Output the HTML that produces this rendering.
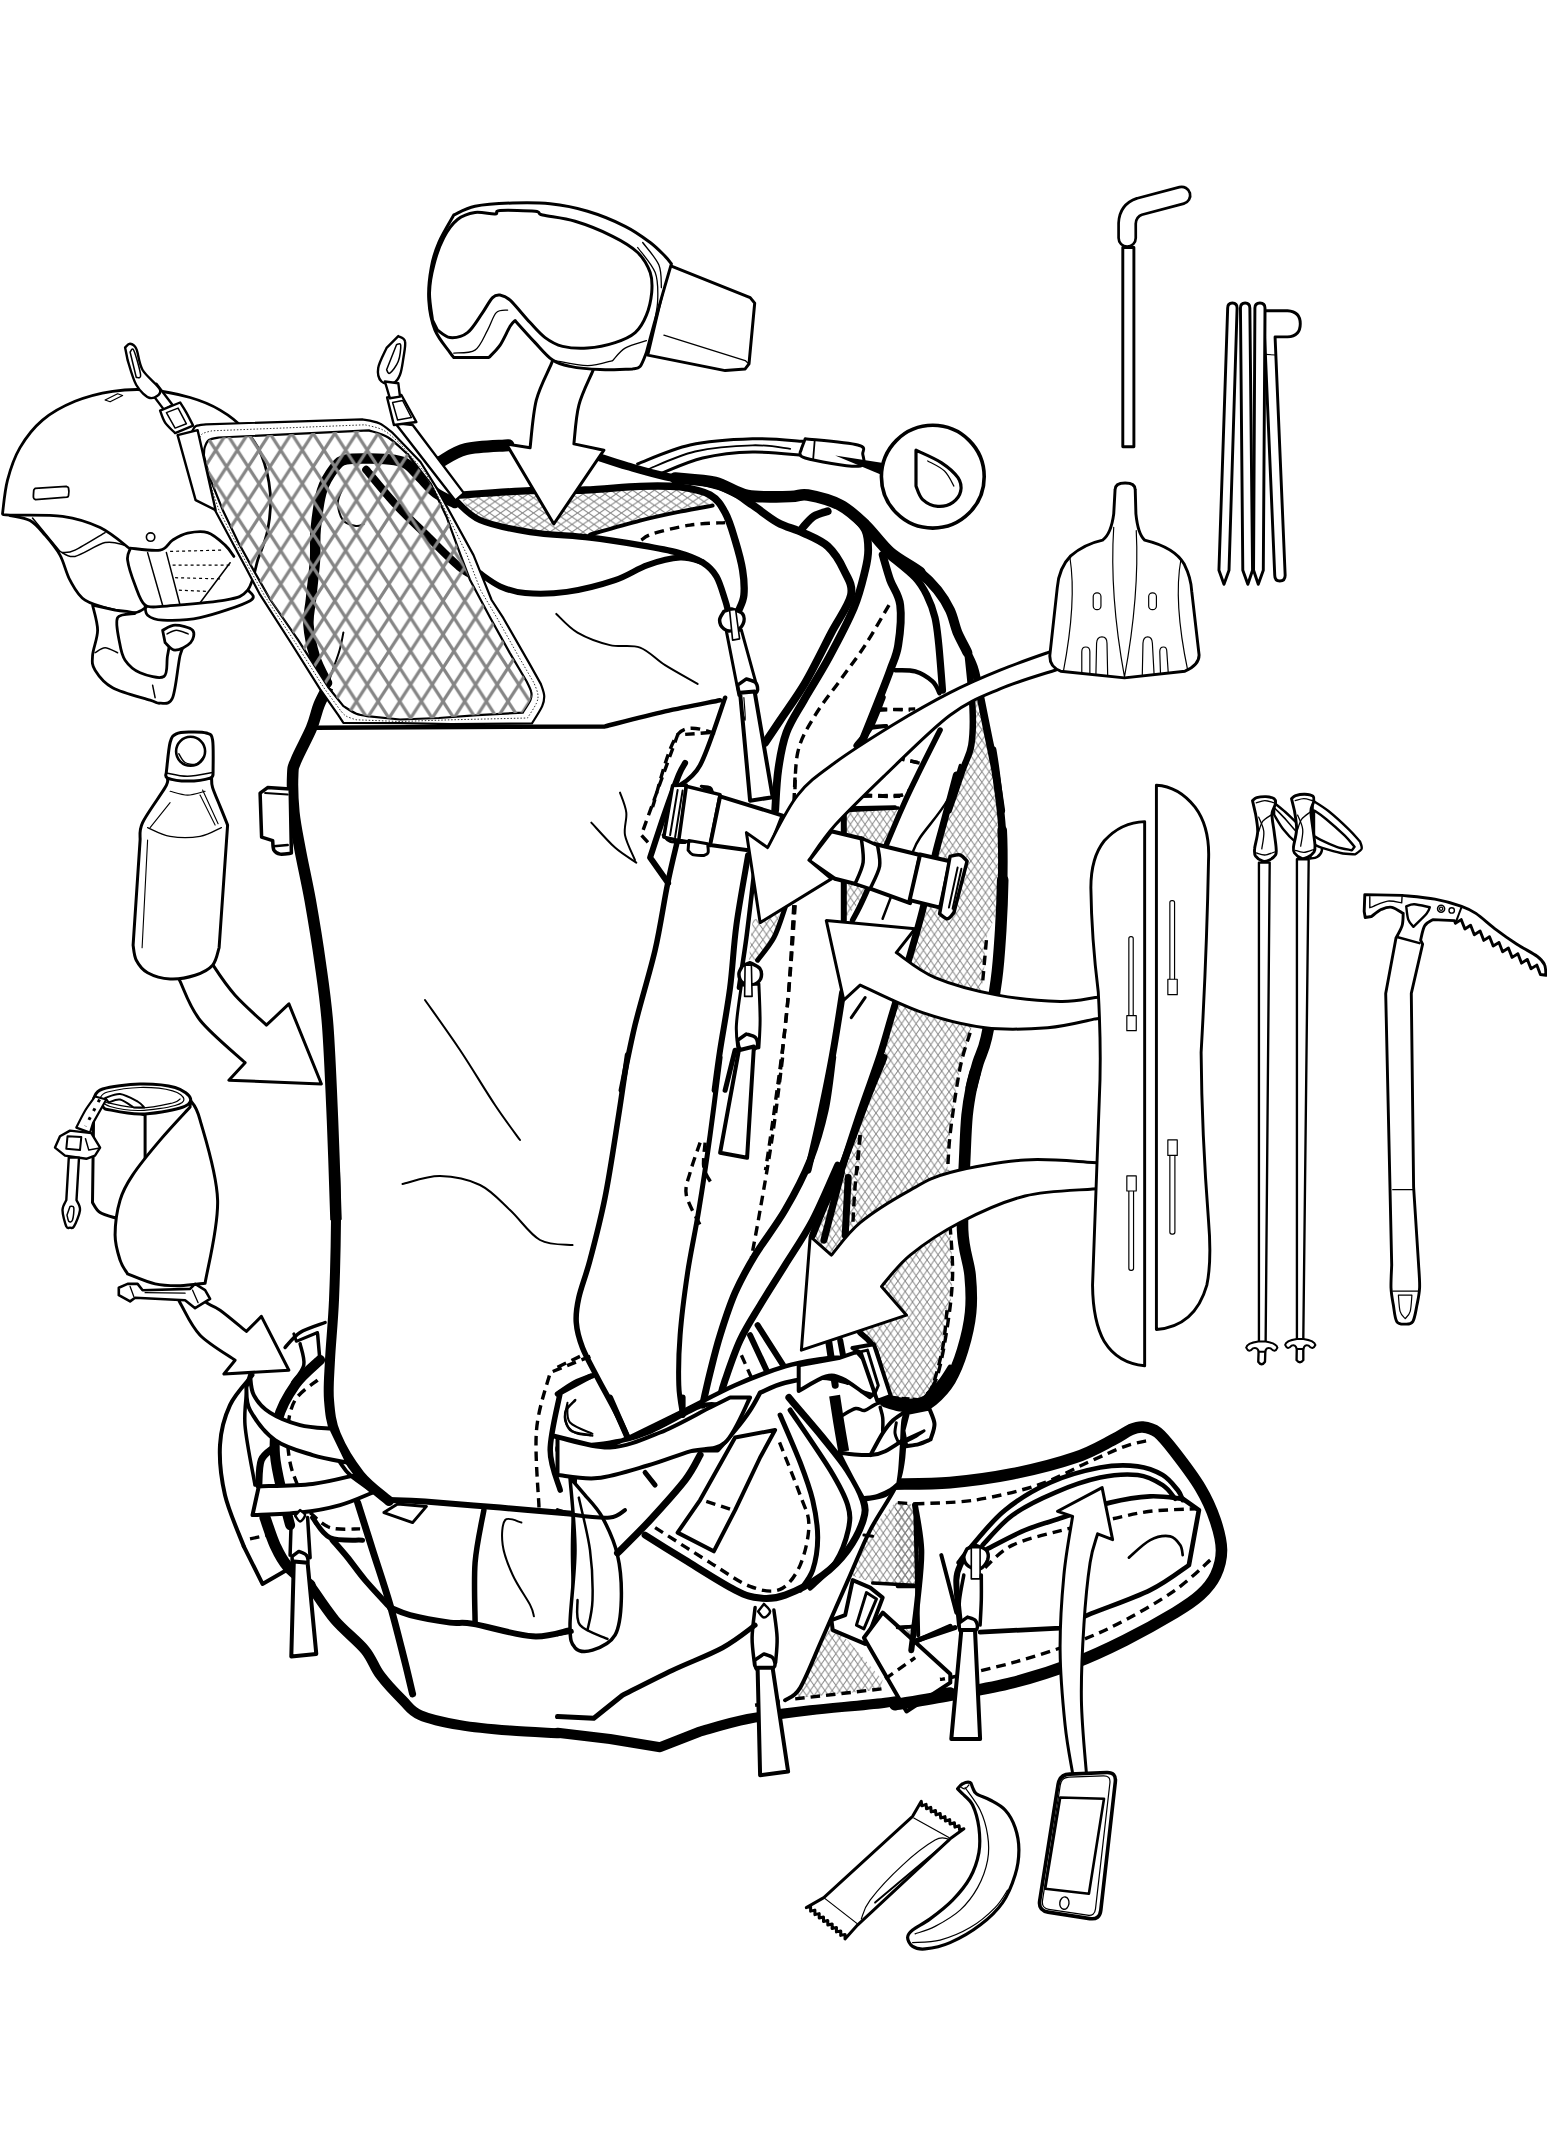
<!DOCTYPE html>
<html><head><meta charset="utf-8"><title>Backpack packing illustration</title>
<style>html,body{margin:0;padding:0;background:#fff;overflow:hidden}svg{display:block}
.o{fill:#fff;stroke:#000;stroke-linejoin:round;stroke-linecap:round}
.l{fill:none;stroke:#000;stroke-linejoin:round;stroke-linecap:round}
</style></head><body>
<svg width="1547" height="2136" viewBox="0 0 1547 2136">
<!-- 00_defs.svg -->
<defs>
<pattern id="mesh" patternUnits="userSpaceOnUse" x="204.9" y="433.4" width="21.65" height="33.5">
<path d="M0 0L21.65 33.5M21.65 0L0 33.5" stroke="#858585" stroke-width="3.2" fill="none"/>
</pattern>
<pattern id="fine" patternUnits="userSpaceOnUse" width="7.3" height="10.5">
<path d="M0 0L7.3 10.5M7.3 0L0 10.5" stroke="#808080" stroke-width="0.95" fill="none"/>
</pattern>
<pattern id="fine2" patternUnits="userSpaceOnUse" width="11" height="7.6">
<path d="M0 0L11 7.6M11 0L0 7.6" stroke="#8a8a8a" stroke-width="1" fill="none"/>
</pattern>
</defs>
<rect width="1547" height="2136" fill="#fff"/>

<!-- 10_fills.svg -->
<path d="M460.2 496.3C471.9 495.4 509.4 491.6 530.2 490.6C551 489.5 566.7 490.8 585 490C603.3 489.3 624.2 486.8 640.1 486.3C655.9 485.8 668 484.8 680.1 487C692.2 489.3 707.2 497.9 712.6 500.1L712.6 505.6C707.2 506.6 692.2 509.1 680.1 511.6C668 514.1 655.1 516.7 640.1 520.6C625.1 524.4 598.4 532.2 590 534.6C580.1 534.2 548.5 534.5 530.2 532.1C511.9 529.7 491.9 526 480.2 520.1C468.5 514.1 463.5 500.3 460.2 496.3Z" fill="url(#fine2)"/>
<path d="M973.8 670.2C973.6 676.4 973 695.2 972.5 707.7C972.1 720.2 973 734.8 971.3 745.2C969.6 755.6 965 765.3 962.5 770.2C960.1 775.2 959.3 767.1 956.4 775C953.5 782.9 948.7 804.2 945.1 817.5C941.6 830.9 938.9 839.6 935.1 855C931.4 870.5 926.8 893.4 922.6 910.1C918.4 926.8 915.1 938 910.1 955.1C905.1 972.2 897.6 996 892.6 1012.7C887.6 1029.3 885.5 1038.5 880.1 1055.2C874.7 1071.9 866.5 1093.5 860.1 1112.7C853.6 1131.9 847.5 1154 841.3 1170.3C835.1 1186.5 827.4 1199.3 822.7 1210.1C817.9 1220.9 806.4 1214.7 812.7 1235.1C818.9 1255.5 849.6 1313.5 860 1332.7C870.4 1351.8 870.5 1339.1 875 1350.2C879.6 1361.2 882.1 1389.9 887.6 1398.9C893 1408 901.3 1404.6 907.6 1404.7C913.8 1404.8 922.2 1400.5 925.1 1399.7L937.6 1375.2C939.3 1366.8 945.1 1341.8 947.6 1325.1C950.1 1308.5 952.2 1291.8 952.6 1275.1C953 1258.4 950.9 1243.8 950.1 1225.1C949.3 1206.3 947.5 1178.3 947.6 1162.5C947.7 1146.7 948.5 1146 950.6 1130.2C952.7 1114.4 956.9 1083.9 960.1 1067.7C963.4 1051.4 966.4 1046.8 970.1 1032.7C973.9 1018.5 979.9 998.1 982.6 982.6C985.4 967.2 984.5 950.5 986.4 940.1C988.3 929.7 991.5 925.9 993.9 920.1C996.3 914.3 999.2 911.8 1000.7 905.1C1002.1 898.4 1002.4 892.6 1002.7 880.1C1002.9 867.6 1003.2 847.5 1002.2 830C1001.1 812.5 998.8 791.2 996.4 775C994 758.8 990.3 746 987.6 732.7C984.8 719.4 982.1 705.6 980.1 695.2C978 684.8 975.9 674.3 975 670.2Z" fill="url(#fine)"/>
<path d="M845.1 810.5L898.1 808L865.1 895.1L845.1 918.8Z" fill="url(#fine)"/>
<path d="M752.6 920.1L780.1 912.6L772.6 937.7L757.6 960.2L748.9 960.2Z" fill="url(#fine)"/>
<path d="M895.2 1502.6L915.2 1505.1L917.7 1585.1L872.7 1582.6L850.2 1575.1L870.2 1530.1Z" fill="url(#fine)"/>
<path d="M830.2 1627.6L847.7 1640.2L882.7 1680.2L880.2 1689.7L795.2 1698.2L807.7 1670.2Z" fill="url(#fine)"/>
<path d="M895.2 1628.1L912.7 1626.6L913.2 1641.4L905.2 1637.7Z" fill="url(#fine)"/>
<path d="M895 1502.6L915 1505.1L921.3 1550.1L918.8 1586.4L895 1586.4Z" fill="url(#fine)"/>

<!-- 15_helmet.svg -->
<path d="M2.5 513.9C3.3 508.2 4.6 491.1 7.5 480.1C10.4 469 14.2 457.6 20 447.6C25.9 437.6 33.4 427.8 42.5 420.1C51.7 412.3 63.4 406.1 75 401.3C86.7 396.5 100.1 393.2 112.6 391.3C125.1 389.4 137.2 389 150.1 390C163 391.1 178.4 394.2 190.1 397.5C201.8 400.9 211 404.6 220.1 410.1C229.3 415.5 238.3 422.6 245.2 430.1C252 437.6 257.2 444.7 261.4 455.1C265.6 465.5 269.1 480.1 270.2 492.6C271.2 505.1 269.8 518.9 267.7 530.1C265.6 541.4 259.3 555.1 257.7 560.1C256 565.2 253.1 583.5 247.7 590.2C242.2 596.8 239.3 597.5 225.1 600.2C211 602.9 173 605.4 162.6 606.4C159.7 606.2 149.7 608.7 145.1 605.2C140.5 601.6 138 592.7 135.1 585.2C132.2 577.7 128.4 566.2 127.6 560.1C126.7 554.1 129.7 550.8 130.1 548.9C125.1 545.3 111.3 533 100.1 527.6C88.8 522.2 77.6 518.5 62.5 516.4C47.5 514.3 20 515.5 10 515.1C0 514.7 3.8 514.1 2.5 513.9Z" fill="#fff" stroke="#000" stroke-width="2.8" stroke-linecap="round" stroke-linejoin="round"/>
<path d="M130.1 548.1C135.1 548.5 153 551.5 160.1 550.1C167.2 548.8 168 543 172.6 540.1C177.2 537.3 181.8 534.4 187.6 533.1C193.5 531.9 201.4 530.6 207.6 532.6C213.9 534.6 220.8 541.2 225.1 545.1C229.5 549.1 232.4 554.5 233.9 556.4" fill="none" stroke="#000" stroke-width="2.8" stroke-linecap="round" stroke-linejoin="round"/>
<path d="M10 515.6C13.3 516.5 24.2 517.4 30 520.6C35.9 523.9 40 529.4 45 535.1C50 540.9 55.9 547.6 60 555.1C64.2 562.7 65.9 572.7 70 580.2C74.2 587.7 77.6 595.2 85.1 600.2C92.6 605.2 106.7 608.1 115.1 610.2C123.4 612.3 129.9 613.2 135.1 612.7C140.3 612.2 144.5 608.1 146.3 607.2" fill="none" stroke="#000" stroke-width="2.8" stroke-linecap="round" stroke-linejoin="round"/>
<path d="M62.5 552.6C64.6 552.2 68 553.5 75 550.1C82.1 546.8 100.1 535.5 105.1 532.6" fill="none" stroke="#000" stroke-width="1.5" stroke-linecap="round" stroke-linejoin="round"/>
<path d="M32.5 518.1L60 551.4" fill="none" stroke="#000" stroke-width="1.5" stroke-linecap="round" stroke-linejoin="round"/>
<path d="M60 551.4C62.5 552.2 67.5 557.9 75 556.4C82.6 554.9 96.7 544.5 105.1 542.6C113.4 540.8 121.7 544.7 125.1 545.1" fill="none" stroke="#000" stroke-width="1.5" stroke-linecap="round" stroke-linejoin="round"/>
<path d="M33.8 490.1L35 488.4L66.3 486.4C66.7 486.6 68.2 486.6 68.5 488.1C68.9 489.6 68.8 494.1 68.5 495.6C68.3 497.1 67.3 496.9 67 497.1L35.5 499.6C35.2 499.3 33.8 499.2 33.5 497.6C33.2 496 33.7 491.4 33.8 490.1Z" fill="#fff" stroke="#000" stroke-width="1.8" stroke-linecap="round" stroke-linejoin="round"/>
<circle cx="150.6" cy="537.1" r="4.2" fill="#fff" stroke="#000" stroke-width="1.6"/>
<path d="M105.1 400L117.6 393.8L122.6 395.5L110.1 401.8L105.1 400" fill="none" stroke="#000" stroke-width="1.2" stroke-linecap="round" stroke-linejoin="round"/>
<path d="M170.1 551.4L222.6 550.1" fill="none" stroke="#000" stroke-width="1.2" stroke-linecap="butt" stroke-linejoin="round" stroke-dasharray="3 3"/>
<path d="M172.6 565.2L230.1 565.2" fill="none" stroke="#000" stroke-width="1.2" stroke-linecap="butt" stroke-linejoin="round" stroke-dasharray="3 3"/>
<path d="M175.1 577.7L220.1 578.9" fill="none" stroke="#000" stroke-width="1.2" stroke-linecap="butt" stroke-linejoin="round" stroke-dasharray="3 3"/>
<path d="M178.9 590.2L207.6 591.4" fill="none" stroke="#000" stroke-width="1.2" stroke-linecap="butt" stroke-linejoin="round" stroke-dasharray="3 3"/>
<path d="M147.6 552.6L162.6 605.2" fill="none" stroke="#000" stroke-width="1.5" stroke-linecap="round" stroke-linejoin="round"/>
<path d="M166.4 552.6L180.1 605.2" fill="none" stroke="#000" stroke-width="1.5" stroke-linecap="round" stroke-linejoin="round"/>
<path d="M230.1 562.7L200.1 602.7" fill="none" stroke="#000" stroke-width="1.5" stroke-linecap="round" stroke-linejoin="round"/>
<path d="M145.1 605.2C145.5 606.8 144.7 612.7 147.6 615.2C150.5 617.7 153.8 619.8 162.6 620.2C171.4 620.6 185.5 620.9 200.1 617.7C214.7 614.4 242.2 605.3 250.2 600.7C258.2 596.1 248.5 591.9 248.2 590.2" fill="none" stroke="#000" stroke-width="2.8" stroke-linecap="round" stroke-linejoin="round"/>
<path d="M92.6 605.2C93.4 609.3 97.6 621.9 97.6 630.2C97.6 638.5 93 648.5 92.6 655.2C92.1 661.9 91.7 664.8 95.1 670.2C98.4 675.6 103.4 682.7 112.6 687.7C121.7 692.7 142.2 697.7 150.1 700.2C158 702.8 156.4 703.7 160.1 703.2C163.9 702.8 169.3 705.7 172.6 697.7C175.9 689.7 177.8 665 180.1 655.2C182.4 645.4 187.6 642.1 186.4 638.9C185.1 635.8 175.7 633.7 172.6 636.4C169.5 639.2 169.1 648.5 167.6 655.2C166.1 661.9 168.4 673.6 163.9 676.5C159.3 679.4 146.6 675.4 140.1 672.7C133.6 670 128.5 665.2 125.1 660.2C121.7 655.2 120.8 649.8 119.6 642.7C118.3 635.6 115 622.6 117.6 617.7C120.2 612.8 135.5 614.4 135.1 613.2C134.7 611.9 118.4 610.7 115.1 610.2Z" fill="#fff" stroke="#000" stroke-width="2.8" stroke-linecap="round" stroke-linejoin="round"/>
<path d="M162.6 630.2C164.7 629.4 170.1 625.2 175.1 625.2C180.1 625.2 190 627.3 192.6 630.2C195.2 633.1 193.5 639.4 190.6 642.7C187.7 646 179.4 650.2 175.1 650.2C170.9 650.2 166.8 644 165.1 642.7Z" fill="#fff" stroke="#000" stroke-width="2.8" stroke-linecap="round" stroke-linejoin="round"/>
<path d="M167.1 633.9C168.7 633.3 172.9 630.2 176.4 630.2C179.9 630.2 186.2 633.3 188.1 633.9" fill="none" stroke="#000" stroke-width="1.5" stroke-linecap="round" stroke-linejoin="round"/>
<path d="M95.1 652.7C96.7 651.9 101.3 647.7 105.1 647.7C108.8 647.7 115.5 651.9 117.6 652.7" fill="none" stroke="#000" stroke-width="1.5" stroke-linecap="round" stroke-linejoin="round"/>
<path d="M152.6 685.2L155.1 697.7" fill="none" stroke="#000" stroke-width="1.5" stroke-linecap="round" stroke-linejoin="round"/>

<!-- 20_packG.svg -->
<path d="M600 457.5C604.6 459 616.7 463.2 627.6 466.3C638.4 469.4 652.6 473.7 665.1 476.3C677.6 478.9 691.8 479.7 702.6 482C713.4 484.4 721.8 486.7 730.1 490.5C738.5 494.4 744.7 499.7 752.6 505.1C760.6 510.4 769.3 518 777.7 522.6C786 527.2 794.3 528.6 802.7 532.6C811 536.5 820.8 540.1 827.7 546.3C834.6 552.6 840.1 562 843.9 570.1C847.8 578.2 853 584.7 851 595.1C848.9 605.5 839.1 618 831.4 632.6C823.8 647.2 813.7 668.1 805.2 682.7C796.6 697.3 786.8 710.2 780.2 720.2C773.5 730.2 767.6 739 765.1 742.7" fill="none" stroke="#000" stroke-width="7.9" stroke-linecap="round" stroke-linejoin="round"/>
<path d="M675.1 478C681.8 478.8 703 479.6 715.1 482.5C727.2 485.5 735.1 493.2 747.6 495.5C760.1 497.9 780.2 496.6 790.2 496.5C800.2 496.5 799.3 493.6 807.7 495C816 496.5 830.6 500.1 840.2 505.1C849.8 510.1 856.9 517.1 865.2 525.1C873.5 533 881.1 544.7 890.2 552.6C899.4 560.5 912.1 566.3 920 572.6" fill="none" stroke="#000" stroke-width="11.6" stroke-linecap="round" stroke-linejoin="round"/>
<path d="M920 572.6C927.9 578.9 932.5 583.9 937.5 590.1C942.5 596.4 946.7 603 950 610.1C953.4 617.2 954.6 625.5 957.5 632.6C960.5 639.7 964.6 646.4 967.5 652.7" fill="none" stroke="#000" stroke-width="9.8" stroke-linecap="round" stroke-linejoin="round"/>
<path d="M967.5 652.7C970.5 658.9 973 663.1 975 670.2C977.1 677.2 978 684.8 980.1 695.2C982.1 705.6 985.1 720.2 987.6 732.7C990.1 745.2 992.8 757.3 995.1 770.2C997.4 783.2 1000.3 803.6 1001.3 810.3" fill="none" stroke="#000" stroke-width="7.6" stroke-linecap="round" stroke-linejoin="round"/>
<path d="M890.2 556.3C894.4 559.9 909.2 571.1 915.2 577.6C921.3 584.1 923.5 588.4 926.8 595.1C930.1 601.8 933 609.3 935 617.6C937 626 937.5 633.1 938.8 645.1C940 657.2 941.9 682.7 942.5 690.2" fill="none" stroke="#000" stroke-width="7.2" stroke-linecap="round" stroke-linejoin="round"/>
<path d="M967.5 652.7C968.4 661.8 971.9 692.3 972.5 707.7C973.2 723.1 973 734.8 971.3 745.2C969.6 755.6 966.3 759.4 962.5 770.2C958.8 781.1 951.1 803.6 948.8 810.3" fill="none" stroke="#000" stroke-width="6.5" stroke-linecap="round" stroke-linejoin="round"/>
<path d="M802.7 527.6C804.5 525.7 809.8 519 813.9 516.3C818.1 513.6 825.4 512.1 827.7 511.3" fill="none" stroke="#000" stroke-width="7.8" stroke-linecap="round" stroke-linejoin="round"/>
<path d="M850.2 511.3C852.7 514.4 862.2 523.6 865.2 530.1C868.2 536.5 868.2 543.4 868.2 550.1C868.2 556.8 867.6 560.5 865.2 570.1C862.8 579.7 860 593 854 607.6C847.9 622.2 837.3 642.2 828.9 657.7C820.6 673.1 811 687.7 803.9 700.2C796.8 712.7 790.7 721 786.4 732.7C782.1 744.4 780 757.3 778.2 770.2C776.3 783.2 775.7 803.6 775.2 810.3" fill="none" stroke="#000" stroke-width="7.8" stroke-linecap="round" stroke-linejoin="round"/>
<path d="M882.7 555.1C884 559.3 887.3 571.8 890.2 580.1C893.1 588.4 898.9 594.3 900.2 605.1C901.6 616 899.9 634.3 898.2 645.1C896.6 656 893.6 660.6 890.2 670.2C886.8 679.8 882.3 691 877.7 702.7C873.1 714.4 865.2 734 862.7 740.2" fill="none" stroke="#000" stroke-width="7.9" stroke-linecap="round" stroke-linejoin="round"/>
<path d="M895.2 670.2C898.6 670.4 909 669.5 915.2 671.4C921.5 673.3 928.5 677.8 932.5 681.4C936.6 685 938.4 691.2 939.5 693.2" fill="none" stroke="#000" stroke-width="4.5" stroke-linecap="round" stroke-linejoin="round"/>
<path d="M460.2 495.1C471.9 494.3 509.4 491.4 530.2 490.6C551 489.7 566.7 490.8 585 490C603.3 489.3 624.2 486.8 640.1 486.3C655.9 485.8 668.4 485.6 680.1 487C691.8 488.5 702.6 490.8 710.1 495C717.6 499.3 721 505.1 725.1 512.6C729.3 520.1 732.2 530.5 735.1 540.1C738 549.7 741.2 560.9 742.6 570.1C744.1 579.3 744.5 588.4 743.9 595.1C743.3 601.8 739.7 607.6 738.9 610.1" fill="none" stroke="#000" stroke-width="7.3" stroke-linecap="round" stroke-linejoin="round"/>
<path d="M455.2 500.1C459.3 503.4 467.7 514.7 480.2 520.1C492.7 525.4 511.9 529.2 530.2 532.1C548.5 535 571.7 535.4 590 537.6C608.3 539.7 625.5 542.6 640.1 545.1C654.7 547.6 667.2 549.7 677.6 552.6C688 555.5 696.1 558.6 702.6 562.6C709.1 566.6 712.6 570.1 716.4 576.4C720.1 582.6 723.2 594.3 725.1 600.1C727.1 606 727.6 609.5 728.1 611.4" fill="none" stroke="#000" stroke-width="6.4" stroke-linecap="round" stroke-linejoin="round"/>
<path d="M478.9 572.6C482.5 574.9 492.5 583 500.2 586.4C507.9 589.8 514.1 592.2 525.2 593.1C536.3 594 551.8 594 566.8 591.9C581.7 589.7 601.6 584.6 615 580.1C628.5 575.6 636.7 568.8 647.6 565.1C658.4 561.3 670.9 558.1 680.1 557.6C689.3 557.1 698.9 561.3 702.6 562.1" fill="none" stroke="#000" stroke-width="6" stroke-linecap="round" stroke-linejoin="round"/>
<path d="M590 534.6C598.4 532.2 625.1 524.4 640.1 520.6C655.1 516.7 668 514.1 680.1 511.6C692.2 509.1 707.2 506.6 712.6 505.6" fill="none" stroke="#000" stroke-width="4" stroke-linecap="round" stroke-linejoin="round"/>
<path d="M641.3 540.1C643.2 539 644.4 536.3 652.6 533.8C660.7 531.3 678 526.9 690.1 525.1C702.2 523.2 719.3 523 725.1 522.6" fill="none" stroke="#000" stroke-width="3.4" stroke-linecap="butt" stroke-linejoin="round" stroke-dasharray="9.5 6"/>
<path d="M556.3 613.9C559.8 617 568.6 627.4 577.5 632.6C586.5 637.8 599.6 642.6 610 645.1C620.5 647.6 630.9 644.3 640.1 647.6C649.2 651 655.5 659.1 665.1 665.2C674.7 671.2 692.2 680.8 697.6 683.9" fill="none" stroke="#000" stroke-width="2" stroke-linecap="round" stroke-linejoin="round"/>
<path d="M315.1 727.7L605 726.4C615 723.9 645.9 715.8 665.1 711.4C684.3 707.1 710.9 702.1 720.1 700.2" fill="none" stroke="#000" stroke-width="4.5" stroke-linecap="round" stroke-linejoin="round"/>
<path d="M731.4 608.9C733.2 609.7 740.7 611.4 742.6 613.9C744.6 616.4 744.4 621 743.1 623.9C741.9 626.8 738.3 630.6 735.1 631.4C731.9 632.2 726.5 630.8 723.9 628.9C721.3 627 719.6 623 719.6 620.1C719.6 617.2 723.2 612.8 723.9 611.4Z" fill="#fff" stroke="#000" stroke-width="3.5" stroke-linecap="round" stroke-linejoin="round"/>
<path d="M726.4 631.4L738.9 695.2L757.6 688.9L741.4 630.1Z" fill="#fff" stroke="#000" stroke-width="3" stroke-linecap="round" stroke-linejoin="round"/>
<path d="M729.6 610.1L735.6 609.4L739.6 638.9L732.6 640.1Z" fill="#fff" stroke="#000" stroke-width="1.6" stroke-linecap="round" stroke-linejoin="round"/>
<path d="M746.4 678.9C747.9 679.5 753.8 680.6 755.6 682.7C757.4 684.8 758.3 689.1 757.1 691.4C756 693.7 751.7 696 748.9 696.4C746 696.8 742 695.8 740.1 693.9C738.3 692.1 738 686.6 737.6 685.2Z" fill="#fff" stroke="#000" stroke-width="3.5" stroke-linecap="round" stroke-linejoin="round"/>
<path d="M740.1 692.7L754.6 691.4L772.7 797.2L750.1 800.7Z" fill="#fff" stroke="#000" stroke-width="4" stroke-linecap="round" stroke-linejoin="round"/>
<path d="M743.9 697.7C744.1 701.4 745.8 719.4 745.1 720.2C744.5 721 741 705.6 740.1 702.7" fill="none" stroke="#000" stroke-width="1.2" stroke-linecap="round" stroke-linejoin="round"/>
<path d="M725.1 697.7C721 708.9 708.2 750.2 700.1 765.2C692 780.2 680.3 784 676.3 787.7" fill="none" stroke="#000" stroke-width="4.5" stroke-linecap="round" stroke-linejoin="round"/>
<path d="M715.1 732.7C708.9 732.9 688.5 721.6 678.1 734C667.7 746.3 656.8 794.8 652.6 807" fill="none" stroke="#000" stroke-width="3.4" stroke-linecap="butt" stroke-linejoin="round" stroke-dasharray="9.5 6"/>
<path d="M889 605.1C885 611.8 873.3 632.6 865.2 645.1C857.1 657.7 848.5 668.5 840.2 680.2C831.9 691.8 822.3 703.1 815.2 715.2C808.1 727.3 801.1 736.9 797.7 752.7C794.2 768.6 795.2 800.7 794.7 810.3" fill="none" stroke="#000" stroke-width="3.4" stroke-linecap="butt" stroke-linejoin="round" stroke-dasharray="9.5 6"/>
<path d="M877.7 710.2L915.2 708.9" fill="none" stroke="#000" stroke-width="3.4" stroke-linecap="butt" stroke-linejoin="round" stroke-dasharray="9.5 6"/>
<path d="M895.2 757.7L920.2 763.2" fill="none" stroke="#000" stroke-width="3.4" stroke-linecap="butt" stroke-linejoin="round" stroke-dasharray="9.5 6"/>
<path d="M862.7 795.2C869 795.3 891.5 797.8 900.2 795.7C909 793.7 912.7 784.9 915.2 782.7" fill="none" stroke="#000" stroke-width="3.4" stroke-linecap="butt" stroke-linejoin="round" stroke-dasharray="9.5 6"/>
<path d="M872.7 726.4L886.5 725.7" fill="none" stroke="#000" stroke-width="3.5" stroke-linecap="round" stroke-linejoin="round"/>
<path d="M637.6 463.8C646.3 460.7 670.9 449.2 690.1 445C709.3 440.8 733.9 439.4 752.6 438.8C771.4 438.1 794.3 440.8 802.7 441.3" fill="none" stroke="#000" stroke-width="3" stroke-linecap="round" stroke-linejoin="round"/>
<path d="M646.3 470C654.4 466.9 677.4 455.6 695.1 451.5C712.8 447.4 736.8 445.7 752.6 445.3C768.5 444.8 783.9 448.2 790.2 448.8" fill="none" stroke="#000" stroke-width="1.8" stroke-linecap="round" stroke-linejoin="round"/>
<path d="M660.1 473.8C667.2 471.2 687.2 461.7 702.6 458C718 454.4 736 452.4 752.6 452C769.3 451.6 794.3 454.9 802.7 455.5" fill="none" stroke="#000" stroke-width="3" stroke-linecap="round" stroke-linejoin="round"/>
<path d="M805.2 438.8C813.9 439.8 848.1 442.5 857.7 445C867.3 447.5 862.6 450.2 862.7 453.8C862.8 457.3 867.8 465.6 858.2 466.3C848.6 467 814.6 460.9 805.2 458C795.7 455.1 802 450.3 801.4 448.8Z" fill="#fff" stroke="#000" stroke-width="3" stroke-linecap="round" stroke-linejoin="round"/>
<path d="M814.7 440.5L813.2 458.8" fill="none" stroke="#000" stroke-width="1.8" stroke-linecap="round" stroke-linejoin="round"/>
<path d="M835.2 455.5L883.2 463L880.7 474.5Z" fill="#000"/>
<circle cx="932.8" cy="476.7" r="51.4" fill="#fff" stroke="#000" stroke-width="3.6"/>
<path d="M916 450.2C920.2 452.2 934.2 458 941.2 462.6C948.2 467.2 954.7 473 958 477.7C961.2 482.5 961.5 487.1 960.7 491.2C959.8 495.3 956.8 499.7 952.9 502.3C949.1 504.8 942.9 506.8 937.8 506.3C932.8 505.9 926.3 502.9 922.7 499.6C919 496.2 917.1 488.4 916 486.1L916 450.2Z" fill="#fff" stroke="#000" stroke-width="3.2" stroke-linecap="round" stroke-linejoin="round"/>
<path d="M927.7 460.9C930.5 462.6 940.2 466.8 944.5 471C948.9 475.2 952.4 483.6 953.9 486.1" fill="none" stroke="#000" stroke-width="1.2" stroke-linecap="round" stroke-linejoin="round"/>
<path d="M327 683C325 678.7 318.1 666.7 315 657C311.9 647.3 309.2 634.7 308.5 625C307.8 615.3 309.9 609.8 311 599C312.1 588.2 314.2 571.7 315 560C315.8 548.3 314.5 540.6 315.7 529C316.9 517.4 318.8 500.8 322 490.5C325.2 480.2 331 472.2 335 467C339 461.8 340.2 460.9 346 459.5C351.8 458.1 361.9 458.4 370 458.5C378.1 458.6 388.3 459 394.6 460C400.9 461 403.3 461.7 407.6 464.6C411.9 467.5 415.8 472.9 420.5 477.6C425.2 482.3 430.2 488.8 436 493C441.8 497.2 451.8 501.3 455 503" fill="none" stroke="#000" stroke-width="10.5" stroke-linecap="round" stroke-linejoin="round"/>
<path d="M366.2 469.8C370.9 475.4 384.5 492.4 394.6 503.4C404.7 514.4 416.2 525.1 427 535.7C437.8 546.3 450.3 559.5 459.3 566.8C468.3 574.1 477.4 577.4 481 579.5" fill="none" stroke="#000" stroke-width="8" stroke-linecap="round" stroke-linejoin="round"/>
<path d="M341.6 490.5C341 492.6 337.6 498.4 337.8 503.4C338 508.3 339.9 516.4 342.9 520.2C345.9 524 352.4 525.4 355.9 526C359.3 526.6 362.3 524.4 363.6 524.1" fill="none" stroke="#000" stroke-width="2" stroke-linecap="round" stroke-linejoin="round"/>
<path d="M343.4 632.4C342.8 635.4 341.6 643.2 339.5 650.5C337.4 657.8 332.6 670.1 330.5 676.4C328.4 682.6 327.2 686.1 326.6 688" fill="none" stroke="#000" stroke-width="2" stroke-linecap="round" stroke-linejoin="round"/>
<path d="M439.9 462C444.2 459.9 454.3 451.9 465.7 449.1C477.1 446.3 501.3 445.9 508.4 445.2" fill="none" stroke="#000" stroke-width="12" stroke-linecap="round" stroke-linejoin="round"/>

<!-- 21_packJ.svg -->
<path d="M992.7 750C993.3 754.1 994.8 761.7 996.4 775C998 788.3 1001.1 812.5 1002.2 830" fill="none" stroke="#000" stroke-width="7.6" stroke-linecap="round" stroke-linejoin="round"/>
<path d="M1002.2 830C1003.2 847.5 1002.9 863.4 1002.7 880.1" fill="none" stroke="#000" stroke-width="9.6" stroke-linecap="round" stroke-linejoin="round"/>
<path d="M1002.7 880.1C1002.4 896.7 1001.7 913.4 1000.7 930.1C999.6 946.8 998.8 962.2 996.4 980.1C994 998.1 989.4 1023.9 986.4 1037.7C983.4 1051.4 980.6 1054.3 978.1 1062.7C975.6 1071 972.5 1083.5 971.4 1087.7" fill="none" stroke="#000" stroke-width="11.6" stroke-linecap="round" stroke-linejoin="round"/>
<path d="M956.4 775C954.5 782.1 948.7 804.2 945.1 817.5C941.6 830.9 938.9 839.6 935.1 855C931.4 870.5 926.8 893.4 922.6 910.1C918.4 926.8 915.1 938 910.1 955.1C905.1 972.2 897.6 996 892.6 1012.7C887.6 1029.3 885.5 1038.5 880.1 1055.2C874.7 1071.9 866.5 1093.5 860.1 1112.7C853.6 1131.9 844.4 1160.7 841.3 1170.3" fill="none" stroke="#000" stroke-width="7" stroke-linecap="round" stroke-linejoin="round"/>
<path d="M940.1 730C936.2 737.9 923 763.7 916.4 777.5C909.7 791.3 908.6 792.9 900.1 812.5C891.5 832.1 873 877.1 865.1 895.1C857.1 913 854.6 915.9 852.6 920.1" fill="none" stroke="#000" stroke-width="5.5" stroke-linecap="round" stroke-linejoin="round"/>
<path d="M960.1 765C958 770.8 954.3 787.9 947.6 800C941 812.1 925.9 828.8 920.1 837.5C914.3 846.3 913.8 850 912.6 852.5" fill="none" stroke="#000" stroke-width="2.5" stroke-linecap="round" stroke-linejoin="round"/>
<path d="M892.6 892.6L882.6 918.8" fill="none" stroke="#000" stroke-width="2.5" stroke-linecap="round" stroke-linejoin="round"/>
<path d="M843.8 812.5L843.8 920.1" fill="none" stroke="#000" stroke-width="6" stroke-linecap="round" stroke-linejoin="round"/>
<path d="M846.3 810.5L898.1 808" fill="none" stroke="#000" stroke-width="3.5" stroke-linecap="round" stroke-linejoin="round"/>
<path d="M862.6 795L900.1 796.3" fill="none" stroke="#000" stroke-width="3.4" stroke-linecap="butt" stroke-linejoin="round" stroke-dasharray="9.5 6"/>
<path d="M795 777.5L793.8 805" fill="none" stroke="#000" stroke-width="3.4" stroke-linecap="butt" stroke-linejoin="round" stroke-dasharray="9.5 6"/>
<path d="M793.8 905.1C792.7 921.8 790.6 971.8 787.5 1005.1C784.4 1038.5 778.7 1077.7 775 1105.2C771.3 1132.7 767.1 1159.4 765.5 1170.3" fill="none" stroke="#000" stroke-width="3.4" stroke-linecap="butt" stroke-linejoin="round" stroke-dasharray="9.5 6"/>
<path d="M986.4 940.1L982.6 982.6" fill="none" stroke="#000" stroke-width="3.4" stroke-linecap="butt" stroke-linejoin="round" stroke-dasharray="9.5 6"/>
<path d="M970.1 1032.7C968.5 1038.5 963.4 1051.4 960.1 1067.7C956.9 1083.9 952.7 1113.1 950.6 1130.2C948.5 1147.3 948.1 1163.6 947.6 1170.3" fill="none" stroke="#000" stroke-width="3.4" stroke-linecap="butt" stroke-linejoin="round" stroke-dasharray="9.5 6"/>
<path d="M860.1 1135.2L857.1 1170.3" fill="none" stroke="#000" stroke-width="3.4" stroke-linecap="butt" stroke-linejoin="round" stroke-dasharray="9.5 6"/>
<path d="M842.6 992.6C840.9 1003.1 836.3 1034.3 832.5 1055.2C828.8 1076 824.1 1098.5 820 1117.7C816 1136.9 810 1161.5 808 1170.3" fill="none" stroke="#000" stroke-width="7" stroke-linecap="round" stroke-linejoin="round"/>
<path d="M865.1 997.6L851.3 1017.7" fill="none" stroke="#000" stroke-width="3" stroke-linecap="round" stroke-linejoin="round"/>
<path d="M831.3 831.3L862.6 838.8L870.1 887.6L835 878.8L808.8 860.6Z" fill="#fff" stroke="#000" stroke-width="4" stroke-linecap="round" stroke-linejoin="round"/>
<path d="M873.8 843.8L920.1 855L910.1 903.1L868.8 888.1Z" fill="#fff" stroke="#000" stroke-width="4" stroke-linecap="round" stroke-linejoin="round"/>
<path d="M861.3 838L877.6 845.5C877.9 849 880.8 859.1 879.6 866.3C878.3 873.5 871.7 885.1 870.1 888.8L855.1 883.8C856.4 880.3 862 870.2 863.1 862.6C864.1 854.9 861.6 842.1 861.3 838Z" fill="#fff" stroke="#000" stroke-width="3.5" stroke-linecap="round" stroke-linejoin="round"/>
<path d="M920.1 854.5L950.1 861.3L940.1 907.6L909.6 900.1Z" fill="#fff" stroke="#000" stroke-width="4" stroke-linecap="round" stroke-linejoin="round"/>
<path d="M950.1 856.3C951.8 856.1 957.3 854.2 960.1 855C963 855.9 966 860.3 967.1 861.3L953.9 912.6C952.8 913.6 950 918.6 947.6 918.8C945.2 919 941 914.7 939.6 913.8L950.1 856.3Z" fill="#fff" stroke="#000" stroke-width="3.5" stroke-linecap="round" stroke-linejoin="round"/>
<path d="M957.6 867.6L948.9 907.6" fill="none" stroke="#000" stroke-width="2" stroke-linecap="round" stroke-linejoin="round"/>
<path d="M961.4 868.8L952.6 908.8" fill="none" stroke="#000" stroke-width="2" stroke-linecap="round" stroke-linejoin="round"/>

<!-- 22_packK.svg -->
<path d="M685.1 763C684 765 682.2 766.8 678.8 775C675.5 783.3 669.9 798.8 665.1 812.6C660.3 826.3 652.6 850.1 650.1 857.6L668.1 883.1" fill="none" stroke="#000" stroke-width="6" stroke-linecap="round" stroke-linejoin="round"/>
<path d="M677.6 840.1C675.9 847.4 671.3 865.5 667.6 883.9C663.8 902.2 660.5 926.6 655.1 950.2C649.6 973.7 640.7 1001.9 635 1025.2C629.4 1048.6 623.6 1079.4 621.3 1090.3" fill="none" stroke="#000" stroke-width="5.5" stroke-linecap="round" stroke-linejoin="round"/>
<path d="M710.1 732.5L677.6 735L641.3 835.1L652.6 847.6" fill="none" stroke="#000" stroke-width="3.4" stroke-linecap="butt" stroke-linejoin="round" stroke-dasharray="9.5 6"/>
<path d="M620 792.6C621.1 795.9 625.5 805.5 626.3 812.6C627.1 819.7 623.6 827.2 625 835.1C626.5 843 633.4 855.9 635 860.1" fill="none" stroke="#000" stroke-width="2" stroke-linecap="round" stroke-linejoin="round"/>
<path d="M591.3 822.6C595.2 826.7 607.5 840.9 615 847.6C622.5 854.3 632.8 860.1 636.3 862.6" fill="none" stroke="#000" stroke-width="2" stroke-linecap="round" stroke-linejoin="round"/>
<path d="M672.6 785.6L686.3 785.1L679.6 840.6L663.8 837.1Z" fill="#fff" stroke="#000" stroke-width="3.5" stroke-linecap="round" stroke-linejoin="round"/>
<path d="M686.3 786.3L720.1 794.6L710.1 845.6L678.8 840.1Z" fill="#fff" stroke="#000" stroke-width="3.5" stroke-linecap="round" stroke-linejoin="round"/>
<path d="M677.6 790.1L670.1 835.1" fill="none" stroke="#000" stroke-width="2" stroke-linecap="round" stroke-linejoin="round"/>
<path d="M682.6 790.6L675.1 837.1" fill="none" stroke="#000" stroke-width="2" stroke-linecap="round" stroke-linejoin="round"/>
<path d="M688.8 840.6L707.6 843.8C707.7 845.3 708.7 850.6 708.1 852.6C707.5 854.6 704.6 855.1 703.8 855.6C702 855.4 695.2 855.5 692.6 854.6C690 853.7 688.8 850.8 688.1 850.1Z" fill="#fff" stroke="#000" stroke-width="3" stroke-linecap="round" stroke-linejoin="round"/>
<path d="M701.3 786.3C702.8 786.5 708.2 786.5 710.1 787.6C712 788.6 712.2 791.7 712.6 792.6Z" fill="#fff" stroke="#000" stroke-width="3" stroke-linecap="round" stroke-linejoin="round"/>
<path d="M720.1 796.3L782.6 815.6L770.1 847.6L746.4 850.1L710.1 845.1Z" fill="#fff" stroke="#000" stroke-width="4" stroke-linecap="round" stroke-linejoin="round"/>
<path d="M663.1 835.1C664.2 836.1 666.4 840.1 670.1 841.3C673.7 842.6 682.6 842.4 685.1 842.6" fill="none" stroke="#000" stroke-width="3" stroke-linecap="round" stroke-linejoin="round"/>
<path d="M748.1 855.1C746.2 866.8 739.4 903 736.4 925.1C733.4 947.2 732.8 966.8 730.1 987.7C727.4 1008.5 722.7 1033.1 720.1 1050.2C717.5 1067.3 715.5 1083.6 714.6 1090.3" fill="none" stroke="#000" stroke-width="6" stroke-linecap="round" stroke-linejoin="round"/>
<path d="M753.9 875.1C752.6 885.5 748.9 918.9 746.4 937.7C743.9 956.4 740.1 979.3 738.9 987.7" fill="none" stroke="#000" stroke-width="4.5" stroke-linecap="round" stroke-linejoin="round"/>
<path d="M735.1 1050.2L725.1 1090.3" fill="none" stroke="#000" stroke-width="5" stroke-linecap="round" stroke-linejoin="round"/>
<path d="M785.1 907.6C783.3 912.6 778.5 928.9 773.9 937.7C769.3 946.4 760.3 956.4 757.6 960.2" fill="none" stroke="#000" stroke-width="5" stroke-linecap="round" stroke-linejoin="round"/>
<path d="M750.1 962.7C751.8 963.7 758.4 966.2 760.1 968.9C761.9 971.6 761.9 976.2 760.6 978.9C759.4 981.6 755.6 984.6 752.6 985.2C749.6 985.8 744.9 984.6 742.6 982.7C740.3 980.8 738.9 976.8 738.9 973.9C738.9 971.1 742 967 742.6 965.7Z" fill="#fff" stroke="#000" stroke-width="3.5" stroke-linecap="round" stroke-linejoin="round"/>
<path d="M741.4 985.2C740.5 991.9 736.9 1014.4 736.4 1025.2C735.8 1036.1 737.8 1046.1 738.1 1050.2L758.9 1047.7C759.1 1043.1 760.1 1030.8 760.1 1020.2C760.1 1009.6 759.1 990 758.9 983.9Z" fill="#fff" stroke="#000" stroke-width="3" stroke-linecap="round" stroke-linejoin="round"/>
<path d="M745.1 965.2L751.4 965.2L752.1 996.4L744.6 996.4Z" fill="#fff" stroke="#000" stroke-width="1.6" stroke-linecap="round" stroke-linejoin="round"/>
<path d="M746.4 1034C747.9 1034.6 753.8 1035.6 755.6 1037.7C757.4 1039.8 758.3 1044.2 757.1 1046.5C756 1048.8 751.7 1051.1 748.9 1051.5C746 1051.9 742 1050.9 740.1 1049C738.2 1047.1 738 1041.7 737.6 1040.2Z" fill="#fff" stroke="#000" stroke-width="3.5" stroke-linecap="round" stroke-linejoin="round"/>
<path d="M738.9 1050.2L753.9 1046.5L747.1 1157.8L720.1 1152.8Z" fill="#fff" stroke="#000" stroke-width="4" stroke-linecap="round" stroke-linejoin="round"/>
<path d="M795.2 905.1C794.3 916.8 792.2 951 790.1 975.2C788.1 999.4 784.6 1031 782.6 1050.2C780.6 1069.4 778.9 1083.6 778.1 1090.3" fill="none" stroke="#000" stroke-width="3.4" stroke-linecap="butt" stroke-linejoin="round" stroke-dasharray="9.5 6"/>
<path d="M882.7 697.5C880.6 702.5 874.6 719.5 870.2 727.5C865.8 735.5 858.7 742.5 856.4 745.5" fill="none" stroke="#000" stroke-width="6" stroke-linecap="round" stroke-linejoin="round"/>
<path d="M877.7 708.8L910.2 710" fill="none" stroke="#000" stroke-width="3.4" stroke-linecap="butt" stroke-linejoin="round" stroke-dasharray="9.5 6"/>
<path d="M895.2 757.5L917.7 762.5" fill="none" stroke="#000" stroke-width="3.4" stroke-linecap="butt" stroke-linejoin="round" stroke-dasharray="9.5 6"/>
<path d="M862.7 796.3L902.7 795.1" fill="none" stroke="#000" stroke-width="3.4" stroke-linecap="butt" stroke-linejoin="round" stroke-dasharray="9.5 6"/>
<path d="M871.5 728L885.2 726.3" fill="none" stroke="#000" stroke-width="3.5" stroke-linecap="round" stroke-linejoin="round"/>
<path d="M847.7 808.1L895.2 807.1" fill="none" stroke="#000" stroke-width="3.5" stroke-linecap="round" stroke-linejoin="round"/>

<!-- 23_packA.svg -->
<path d="M328 687C326.5 690 321.8 698.2 319 705C316.2 711.8 315.3 718.8 311.5 728C307.7 737.2 299.3 752.2 296.2 760C293 767.9 293 766.3 292.7 775C292.3 783.8 292.7 800.1 293.9 812.6C295.2 825.1 297.5 835.5 300.2 850.1C302.9 864.7 306.8 881.4 310.2 900.1C313.5 918.9 317.3 941.8 320.2 962.7C323.1 983.5 325.6 999 327.7 1025.2C329.7 1051.4 331.1 1087.5 332.5 1120C333.9 1152.5 335.4 1203.3 336 1220" fill="none" stroke="#000" stroke-width="11.5" stroke-linecap="butt" stroke-linejoin="round"/>
<path d="M335 1170C335.2 1178.3 336.2 1198.3 336 1220C335.8 1241.7 335 1276.7 334 1300C333 1323.3 330.8 1343.3 330 1360C329.2 1376.7 328 1387.5 329 1400C330 1412.5 330.8 1422.5 336 1435C341.2 1447.5 351.2 1464 360 1475C368.8 1486 384.2 1496.7 389 1501" fill="none" stroke="#000" stroke-width="10" stroke-linecap="round" stroke-linejoin="round"/>
<path d="M425 1000C430.8 1008.3 448.3 1032.5 460 1050C471.7 1067.5 485 1090 495 1105C505 1120 515.8 1134.2 520 1140" fill="none" stroke="#000" stroke-width="2" stroke-linecap="round" stroke-linejoin="round"/>
<path d="M402.5 1184C408.8 1182.7 427.1 1175.8 440 1176C452.9 1176.2 468.3 1179.3 480 1185C491.7 1190.7 500 1200.8 510 1210C520 1219.2 529.6 1234.2 540 1240C550.4 1245.8 567.1 1244.2 572.5 1245" fill="none" stroke="#000" stroke-width="2" stroke-linecap="round" stroke-linejoin="round"/>

<!-- 24_packM.svg -->
<path d="M627.5 1055C625.9 1066.3 621.3 1098.8 617.5 1122.5C613.8 1146.3 609.6 1174.7 605 1197.6C600.4 1220.5 594.4 1243.5 590 1260.1C585.6 1276.8 581.1 1287.2 578.8 1297.7C576.5 1308.1 575.6 1314.3 576.3 1322.7C576.9 1331 579 1338.5 582.5 1347.7C586.1 1356.9 591.7 1366.4 597.5 1377.7C603.4 1389 612.5 1405.1 617.5 1415.2C622.6 1425.3 626.3 1434.4 628 1438.2" fill="none" stroke="#000" stroke-width="5.5" stroke-linecap="round" stroke-linejoin="round"/>
<path d="M720.1 1057.5C718.4 1070.4 713.6 1109.6 710.1 1135C706.6 1160.5 702.6 1187.2 698.8 1210.1C695.1 1233 690.7 1251.8 687.6 1272.6C684.5 1293.5 681.5 1316.4 680.1 1335.2C678.6 1353.9 678.4 1371.9 678.8 1385.2C679.2 1398.6 682 1410.2 682.6 1415.2" fill="none" stroke="#000" stroke-width="5" stroke-linecap="round" stroke-linejoin="round"/>
<path d="M700.1 1142.6C698.4 1147.6 692.4 1163.8 690.1 1172.6C687.8 1181.3 684.7 1186.3 686.3 1195.1C688 1203.8 697.8 1220.1 700.1 1225.1" fill="none" stroke="#000" stroke-width="3.4" stroke-linecap="butt" stroke-linejoin="round" stroke-dasharray="9.5 6"/>
<path d="M705.1 1142.6C704.9 1146.7 702.6 1160.5 703.8 1167.6C705.1 1174.7 711.1 1182.2 712.6 1185.1" fill="none" stroke="#000" stroke-width="3.4" stroke-linecap="butt" stroke-linejoin="round" stroke-dasharray="9.5 6"/>
<path d="M782.6 1057.5C781 1070.4 776.4 1109.6 772.6 1135C768.9 1160.5 763.7 1189.7 760.1 1210.1C756.6 1230.5 752.8 1249.7 751.4 1257.6" fill="none" stroke="#000" stroke-width="3.4" stroke-linecap="butt" stroke-linejoin="round" stroke-dasharray="9.5 6"/>
<path d="M832.7 1057.5C831.4 1066.3 828.9 1092.9 825.2 1110C821.4 1127.1 816.8 1143.4 810.2 1160.1C803.5 1176.7 794.3 1194.3 785.1 1210.1C776 1225.9 763.5 1241.4 755.1 1255.1C746.8 1268.9 741 1279.3 735.1 1292.7C729.3 1306 724.3 1321.8 720.1 1335.2C715.9 1348.5 713 1361 710.1 1372.7C707.2 1384.4 703.8 1399.8 702.6 1405.2" fill="none" stroke="#000" stroke-width="7" stroke-linecap="round" stroke-linejoin="round"/>
<path d="M837.7 1165.1C833.5 1174.2 821.4 1203.4 812.7 1220.1C803.9 1236.8 793.9 1251 785.1 1265.1C776.4 1279.3 767.6 1292.7 760.1 1305.2C752.6 1317.7 746 1327.7 740.1 1340.2C734.3 1352.7 728.4 1370.6 725.1 1380.2C721.8 1389.8 720.9 1394.8 720.1 1397.7" fill="none" stroke="#000" stroke-width="7" stroke-linecap="round" stroke-linejoin="round"/>
<path d="M884 1057.5C881.2 1064.2 874.8 1079.2 867.7 1097.5C860.6 1115.9 848.9 1148.8 841.4 1167.6C833.9 1186.3 827.5 1198.8 822.7 1210.1C817.9 1221.4 814.3 1230.9 812.7 1235.1" fill="none" stroke="#000" stroke-width="7" stroke-linecap="round" stroke-linejoin="round"/>
<path d="M841.4 1172.6L823.9 1240.1" fill="none" stroke="#000" stroke-width="7" stroke-linecap="round" stroke-linejoin="round"/>
<path d="M848.2 1177.6L845.2 1235.1" fill="none" stroke="#000" stroke-width="7" stroke-linecap="round" stroke-linejoin="round"/>
<path d="M860.2 1135C859.4 1143.4 856.4 1169.7 855.2 1185.1C853.9 1200.5 853.1 1220.5 852.7 1227.6" fill="none" stroke="#000" stroke-width="3.4" stroke-linecap="butt" stroke-linejoin="round" stroke-dasharray="9.5 6"/>
<path d="M947 1310.2C946.3 1316.4 945.1 1335.2 942.7 1347.7C940.4 1360.2 935.7 1377.2 932.7 1385.2C929.8 1393.2 926.5 1394 925.2 1395.7" fill="none" stroke="#000" stroke-width="3.4" stroke-linecap="butt" stroke-linejoin="round" stroke-dasharray="9.5 6"/>
<path d="M890.2 1398.2C893.5 1398.8 904.4 1401.7 910.2 1401.7C916.1 1401.7 920.2 1401.4 925.2 1398.2C930.2 1395 936.1 1387.8 940.2 1382.7C944.4 1377.6 948.6 1370.2 950.3 1367.7" fill="none" stroke="#000" stroke-width="6" stroke-linecap="round" stroke-linejoin="round"/>
<path d="M557.5 1394C560.4 1392.1 569.2 1385.8 575 1382.7C580.8 1379.7 589.6 1376.9 592.5 1375.7" fill="none" stroke="#000" stroke-width="5.5" stroke-linecap="round" stroke-linejoin="round"/>
<path d="M567.5 1402.7C567.1 1405.6 563.8 1415.2 565 1420.2C566.3 1425.2 570.4 1430.2 575 1432.7C579.6 1435.3 589.6 1435.2 592.5 1435.7" fill="none" stroke="#000" stroke-width="2" stroke-linecap="round" stroke-linejoin="round"/>
<path d="M557.5 1367.2L580 1356.4" fill="none" stroke="#000" stroke-width="3.4" stroke-linecap="butt" stroke-linejoin="round" stroke-dasharray="9.5 6"/>
<path d="M750.1 1335.2L767.6 1372.7" fill="none" stroke="#000" stroke-width="6" stroke-linecap="round" stroke-linejoin="round"/>
<path d="M757.6 1325.2L783.9 1366.4" fill="none" stroke="#000" stroke-width="6" stroke-linecap="round" stroke-linejoin="round"/>
<path d="M741.4 1355.2L752.6 1380.2" fill="none" stroke="#000" stroke-width="3.4" stroke-linecap="butt" stroke-linejoin="round" stroke-dasharray="9.5 6"/>
<path d="M828.9 1342.7L835.2 1385.2" fill="none" stroke="#000" stroke-width="7" stroke-linecap="round" stroke-linejoin="round"/>
<path d="M840.2 1340.2L847.7 1380.2" fill="none" stroke="#000" stroke-width="6" stroke-linecap="round" stroke-linejoin="round"/>
<path d="M628 1438.2C637.6 1433.6 667.2 1419.1 685.1 1410.2C702.9 1401.4 718.4 1392.5 735.1 1385.2C751.8 1377.9 770.6 1370.8 785.1 1366.4C799.7 1362.1 813.7 1360.4 822.7 1358.9C831.6 1357.5 836.2 1357.9 838.9 1357.7L847.7 1382.7C843.5 1381.9 833.1 1377.7 822.7 1377.7C812.2 1377.7 795.6 1380.2 785.1 1382.7C774.7 1385.2 764.3 1391 760.1 1392.7C758.5 1395.6 754.3 1404 750.1 1410.2C746 1416.5 740.5 1423.6 735.1 1430.2C729.7 1436.9 720.5 1446.9 717.6 1450.3L680.1 1450.3C683.4 1446.1 693.4 1432.7 700.1 1425.2C706.8 1417.7 716.8 1408.6 720.1 1405.2C716.8 1405.4 712.2 1401.9 700.1 1406.5C688 1411.1 662.6 1426.7 647.6 1432.7C632.5 1438.8 625 1440.2 610 1442.7C595 1445.2 566.3 1446.9 557.5 1447.8L557.5 1450.3L597.5 1450.3Z" fill="#fff" stroke="#000" stroke-width="4.5" stroke-linecap="round" stroke-linejoin="round"/>

<!-- 25_packN.svg -->
<path d="M975.1 1072.5C974.5 1075 972.7 1080.4 971.4 1087.5C970 1094.6 968.2 1104.6 967.1 1115C966.1 1125.4 965.9 1130.9 965.1 1150C964.4 1169.2 961.8 1209.2 962.6 1230.1C963.4 1250.9 968.8 1261.4 970.1 1275.1C971.4 1288.9 971.9 1300.1 970.6 1312.6C969.4 1325.1 966 1338.9 962.6 1350.2C959.2 1361.4 955.1 1371.8 950.1 1380.2C945.1 1388.5 938 1395.7 932.6 1400.2C927.2 1404.7 923 1406.3 917.6 1407.2C912.2 1408.1 905.5 1406.7 900.1 1405.7C894.6 1404.7 887.6 1402.2 885.1 1401.4" fill="none" stroke="#000" stroke-width="11.6" stroke-linecap="round" stroke-linejoin="round"/>
<path d="M950.1 1225.1C950.5 1233.4 953 1258.4 952.6 1275.1C952.2 1291.8 950.1 1308.5 947.6 1325.1C945.1 1341.8 941.3 1363.1 937.6 1375.2C933.8 1387.3 927.2 1393.9 925.1 1397.7" fill="none" stroke="#000" stroke-width="3.4" stroke-linecap="butt" stroke-linejoin="round" stroke-dasharray="9.5 6"/>
<path d="M860 1332.7C862.5 1335.6 870.5 1339.1 875 1350.2C879.6 1361.2 885.5 1390.8 887.6 1398.9" fill="none" stroke="#000" stroke-width="5.8" stroke-linecap="round" stroke-linejoin="round"/>

<!-- 26_packQ.svg -->
<path d="M389.1 1500.1C395.1 1500.4 406.6 1500.4 425.1 1501.6C443.7 1502.9 475.2 1505.5 500.2 1507.6C525.2 1509.7 562.7 1513.1 575.2 1514.1" fill="none" stroke="#000" stroke-width="6" stroke-linecap="round" stroke-linejoin="round"/>
<path d="M252.5 1375C248.8 1380.1 235.4 1393.4 230 1405.1C224.6 1416.7 220.8 1430.1 220 1445.1C219.2 1460.1 221.1 1478.2 225 1495.1C229 1512 240.7 1537.9 243.8 1546.4" fill="none" stroke="#000" stroke-width="4" stroke-linecap="round" stroke-linejoin="round"/>
<path d="M243.8 1546.4L262.5 1583.9L286.3 1570.2" fill="none" stroke="#000" stroke-width="4" stroke-linecap="round" stroke-linejoin="round"/>
<path d="M247.5 1385.1C247.1 1391.7 243.8 1408.4 245 1425.1C246.3 1441.8 253.4 1475.1 255 1485.1" fill="none" stroke="#000" stroke-width="3.5" stroke-linecap="round" stroke-linejoin="round"/>
<path d="M250 1538.9L267.5 1535.2" fill="none" stroke="#000" stroke-width="3.4" stroke-linecap="butt" stroke-linejoin="round" stroke-dasharray="9.5 6"/>
<path d="M320.1 1360C315.9 1364.2 302.1 1375 295.1 1385.1C288 1395.1 280.9 1408.4 277.6 1420.1C274.2 1431.8 274.2 1442.6 275 1455.1C275.9 1467.6 280.1 1483.5 282.6 1495.1C285.1 1506.8 288.8 1520.1 290.1 1525.1" fill="none" stroke="#000" stroke-width="10" stroke-linecap="round" stroke-linejoin="round"/>
<path d="M273.8 1447.6C271.7 1449.7 263.8 1453.8 261.3 1460.1C258.8 1466.4 259.2 1481 258.8 1485.1" fill="none" stroke="#000" stroke-width="7" stroke-linecap="round" stroke-linejoin="round"/>
<path d="M265 1517.6C266.7 1522.2 271.3 1537 275 1545.2C278.8 1553.3 281.7 1559.8 287.6 1566.4C293.4 1573.1 306.3 1582.1 310.1 1585.2" fill="none" stroke="#000" stroke-width="11.2" stroke-linecap="round" stroke-linejoin="round"/>
<path d="M310 1585.1C314.2 1590.9 325.9 1609.2 335 1620.1C344.2 1630.9 357.6 1640.9 365.1 1650.1C372.6 1659.3 373.8 1666.8 380.1 1675.1C386.3 1683.5 395.9 1693.5 402.6 1700.1C409.3 1706.8 410.5 1711 420.1 1715.1C429.7 1719.3 445.1 1722.6 460.1 1725.1C475.1 1727.7 493.7 1729.3 510.2 1730.6C526.6 1732 550.8 1732.7 558.9 1733.2" fill="none" stroke="#000" stroke-width="10" stroke-linecap="round" stroke-linejoin="round"/>
<path d="M317.6 1380.1C313.8 1383.4 300.1 1391.7 295.1 1400.1C290.1 1408.4 288.4 1419.7 287.6 1430.1C286.7 1440.5 288.4 1453.4 290.1 1462.6C291.7 1471.8 296.3 1481.4 297.6 1485.1" fill="none" stroke="#000" stroke-width="3.4" stroke-linecap="butt" stroke-linejoin="round" stroke-dasharray="9.5 6"/>
<path d="M310.1 1512.6C313.4 1515.1 321.7 1524.9 330.1 1527.6C338.4 1530.4 355.1 1528.7 360.1 1528.9" fill="none" stroke="#000" stroke-width="3.4" stroke-linecap="butt" stroke-linejoin="round" stroke-dasharray="9.5 6"/>
<path d="M312.6 1517.6C315.5 1521 321.7 1533.9 330.1 1537.7C338.4 1541.4 357.2 1539.7 362.6 1540.2" fill="none" stroke="#000" stroke-width="5" stroke-linecap="round" stroke-linejoin="round"/>
<path d="M250 1375C250.7 1378.4 250.4 1388.8 253.8 1395.1C257.1 1401.3 262.3 1407.6 270 1412.6C277.8 1417.6 289.8 1422.4 300.1 1425.1C310.3 1427.8 326.1 1428.2 331.3 1428.8L347.6 1462.6C341.8 1461.4 324.7 1458.9 312.6 1455.1C300.5 1451.3 285.5 1447.6 275 1440.1C264.6 1432.6 254.8 1418.8 250 1410.1C245.2 1401.3 246.9 1391.3 246.3 1387.6Z" fill="#fff" stroke="#000" stroke-width="4" stroke-linecap="round" stroke-linejoin="round"/>
<path d="M258.8 1486.4C267.8 1486 296.5 1485.7 312.6 1483.9C328.6 1482 348 1476.6 355.1 1475.1L372.6 1492.6C367.2 1494.7 352.2 1501.8 340.1 1505.1C328 1508.5 314.7 1511 300.1 1512.6C285.5 1514.3 260.5 1514.7 252.5 1515.1Z" fill="#fff" stroke="#000" stroke-width="4" stroke-linecap="round" stroke-linejoin="round"/>
<path d="M300.1 1510.1C300.9 1511 305.1 1513.3 305.1 1515.1C305.1 1517 301.7 1521.3 300.1 1521.4C298.4 1521.5 295.9 1516.6 295.1 1515.6Z" fill="#fff" stroke="#000" stroke-width="2.5" stroke-linecap="round" stroke-linejoin="round"/>
<path d="M291.3 1517.6L290.1 1555.2" fill="none" stroke="#000" stroke-width="3.5" stroke-linecap="round" stroke-linejoin="round"/>
<path d="M307.6 1517.6L310.1 1557.7" fill="none" stroke="#000" stroke-width="3.5" stroke-linecap="round" stroke-linejoin="round"/>
<path d="M298.8 1551.4C300.1 1552 304.9 1553.3 306.3 1555.2C307.8 1557 308.6 1560.8 307.6 1562.7C306.5 1564.5 302.5 1566.3 300.1 1566.4C297.6 1566.5 294.4 1564.8 293.1 1563.2C291.7 1561.5 292.2 1557.5 292.1 1556.4Z" fill="#fff" stroke="#000" stroke-width="3.5" stroke-linecap="round" stroke-linejoin="round"/>
<path d="M293.8 1561.4L307.6 1562.7L316.3 1654L291.3 1656.5Z" fill="#fff" stroke="#000" stroke-width="4" stroke-linecap="round" stroke-linejoin="round"/>
<path d="M285.1 1347.5C287.6 1345 293.4 1336.7 300.1 1332.5C306.7 1328.4 320.9 1324.2 325.1 1322.5" fill="none" stroke="#000" stroke-width="3.5" stroke-linecap="round" stroke-linejoin="round"/>
<path d="M293.8 1333.8L296.3 1341.3L317.6 1332.5" fill="none" stroke="#000" stroke-width="3" stroke-linecap="round" stroke-linejoin="round"/>
<path d="M300.1 1343.8C300.7 1347.3 305.1 1358.6 303.8 1365C302.6 1371.5 294.4 1379.6 292.6 1382.6" fill="none" stroke="#000" stroke-width="3.5" stroke-linecap="round" stroke-linejoin="round"/>
<path d="M317.6 1333.8L320.1 1362.5" fill="none" stroke="#000" stroke-width="3.5" stroke-linecap="round" stroke-linejoin="round"/>
<path d="M357.6 1502.5C360.1 1510.4 367.2 1532.9 372.6 1550C378 1567.1 384.7 1586.3 390.1 1605.1C395.5 1623.8 401.3 1647.8 405.1 1662.6C408.8 1677.4 411.3 1688.7 412.6 1693.9" fill="none" stroke="#000" stroke-width="7" stroke-linecap="round" stroke-linejoin="round"/>
<path d="M332.5 1540C335 1542.9 342.1 1550.9 347.6 1557.5C353 1564.2 358 1571.7 365.1 1580.1C372.2 1588.4 385.9 1603 390.1 1607.6" fill="none" stroke="#000" stroke-width="6" stroke-linecap="round" stroke-linejoin="round"/>
<path d="M340.1 1462.6C341.8 1464.7 344.7 1470.3 350.1 1475.1C355.5 1479.9 368.9 1488.7 372.6 1491.4" fill="none" stroke="#000" stroke-width="4" stroke-linecap="round" stroke-linejoin="round"/>
<path d="M483.9 1510C482.4 1518.8 476.6 1543.8 475.1 1562.5C473.7 1581.3 475.1 1612.6 475.1 1622.6" fill="none" stroke="#000" stroke-width="5.5" stroke-linecap="round" stroke-linejoin="round"/>
<path d="M390.1 1607.6C393.4 1608.8 400.1 1612.6 410.1 1615.1C420.1 1617.6 439.7 1621.1 450.1 1622.6C460.5 1624 458.9 1621.5 472.6 1623.8C486.4 1626.1 516.4 1635.3 532.7 1636.3C548.9 1637.4 563.9 1631.1 570.2 1630.1" fill="none" stroke="#000" stroke-width="6" stroke-linecap="round" stroke-linejoin="round"/>
<path d="M521.4 1522.5C518.7 1522.1 508.3 1516.3 505.2 1520C502 1523.8 501.4 1535.9 502.7 1545C503.9 1554.2 508.1 1565 512.7 1575C517.2 1585.1 526.6 1598.2 530.2 1605.1C533.7 1611.9 533.3 1614.4 533.9 1616.3" fill="none" stroke="#000" stroke-width="2" stroke-linecap="round" stroke-linejoin="round"/>
<path d="M383.9 1512.6L397.6 1503.9L426.4 1506.4L412.6 1522.6Z" fill="#fff" stroke="#000" stroke-width="3" stroke-linecap="round" stroke-linejoin="round"/>
<path d="M590.3 1356.3L550.2 1372.5C547.9 1382.1 538.3 1407.6 536.5 1430.1C534.6 1452.6 538.6 1494.7 539 1507.6" fill="none" stroke="#000" stroke-width="3.4" stroke-linecap="butt" stroke-linejoin="round" stroke-dasharray="9.5 6"/>
<path d="M590.3 1376.3L560.2 1392.6C558.6 1402.1 550.2 1433.8 550.2 1450.1C550.2 1466.4 558.6 1483.5 560.2 1490.1" fill="none" stroke="#000" stroke-width="5.5" stroke-linecap="round" stroke-linejoin="round"/>
<path d="M555.2 1436.3L590.3 1445.1" fill="none" stroke="#000" stroke-width="5" stroke-linecap="round" stroke-linejoin="round"/>
<path d="M575.2 1400.1C573.6 1402.1 566.1 1407.6 565.2 1412.6C564.4 1417.6 566.1 1426.3 570.2 1430.1C574.4 1433.8 586.9 1434.3 590.3 1435.1" fill="none" stroke="#000" stroke-width="2.5" stroke-linecap="round" stroke-linejoin="round"/>
<path d="M575.2 1475.1C574.8 1487.6 572.7 1523.9 572.7 1550.2C572.7 1576.4 574.8 1619 575.2 1632.7" fill="none" stroke="#000" stroke-width="4" stroke-linecap="round" stroke-linejoin="round"/>

<!-- 27_packR.svg -->
<path d="M557.5 1732.7L610 1739L660.1 1747.2L700.1 1731.5C708 1729.4 729.3 1722.5 747.6 1719C766 1715.4 787.2 1712.9 810.2 1710.2C833.1 1707.5 861.9 1705.7 885.2 1702.7C908.6 1699.7 939.4 1693.9 950.3 1692.2" fill="none" stroke="#000" stroke-width="10" stroke-linecap="round" stroke-linejoin="round"/>
<path d="M557.5 1716.5L593.8 1718.2L622.5 1695.2C630.9 1691 655.9 1678.1 672.6 1670.2C689.3 1662.3 708.8 1655.2 722.6 1647.7C736.4 1640.2 749.7 1628.9 755.1 1625.1" fill="none" stroke="#000" stroke-width="5" stroke-linecap="round" stroke-linejoin="round"/>
<path d="M645.1 1535.1C651.7 1539.3 670.1 1550.9 685.1 1560.1C700.1 1569.3 722.6 1583.8 735.1 1590.1C747.6 1596.5 751.8 1597.3 760.1 1598.1C768.5 1599 774.7 1599 785.1 1595.1C795.6 1591.3 812.2 1582.6 822.7 1575.1C833.1 1567.6 840.9 1559.3 847.7 1550.1C854.4 1540.9 860.6 1528.4 863.2 1520.1C865.8 1511.7 865.8 1508.4 863.2 1500.1C860.6 1491.7 854.4 1480.5 847.7 1470C840.9 1459.6 831.4 1448.4 822.7 1437.5C813.9 1426.7 800.8 1411.7 795.2 1405C789.5 1398.3 789.9 1398.7 788.9 1397.5" fill="none" stroke="#000" stroke-width="7" stroke-linecap="round" stroke-linejoin="round"/>
<path d="M780.1 1415C783.5 1422.9 794.7 1448.4 800.2 1462.5C805.6 1476.7 809.7 1487.6 812.7 1500.1C815.6 1512.6 817.7 1525.9 817.7 1537.6C817.7 1549.3 815.6 1561.4 812.7 1570.1C809.7 1578.9 802.2 1586.8 800.2 1590.1" fill="none" stroke="#000" stroke-width="5" stroke-linecap="round" stroke-linejoin="round"/>
<path d="M790.1 1410C796.8 1420 820.6 1454.2 830.2 1470C839.8 1485.9 844.7 1495.1 847.7 1505.1C850.7 1515.1 850.3 1520.5 848.2 1530.1C846.1 1539.7 841.5 1552.9 835.2 1562.6C828.8 1572.3 814.3 1583.9 810.2 1588.1" fill="none" stroke="#000" stroke-width="5" stroke-linecap="round" stroke-linejoin="round"/>
<path d="M655.1 1527.6C664.2 1533.4 694.3 1552.8 710.1 1562.6C725.9 1572.4 738.4 1581.9 750.1 1586.4C761.8 1590.8 771.8 1592.9 780.1 1589.4C788.5 1585.8 795.4 1575.8 800.2 1565.1C804.9 1554.4 808.9 1536.8 808.9 1525.1C808.9 1513.4 805.4 1509.7 800.2 1495.1C794.9 1480.5 781.4 1447.1 777.6 1437.5" fill="none" stroke="#000" stroke-width="3.4" stroke-linecap="butt" stroke-linejoin="round" stroke-dasharray="9.5 6"/>
<path d="M775.1 1430L735.1 1437.5L700.1 1500.1L677.6 1532.6L713.8 1551.3L735.1 1510.1L760.1 1457.5Z" fill="#fff" stroke="#000" stroke-width="4" stroke-linecap="round" stroke-linejoin="round"/>
<path d="M706.3 1501.3L732.6 1510.1" fill="none" stroke="#000" stroke-width="3.4" stroke-linecap="butt" stroke-linejoin="round" stroke-dasharray="9.5 6"/>
<path d="M557.5 1437.5C566.3 1439.2 592.9 1448.4 610 1447.5C627.1 1446.7 643.4 1439.2 660.1 1432.5C676.7 1425.9 698.4 1413.3 710.1 1407.5C721.8 1401.7 726.8 1399.2 730.1 1397.5L750.1 1397.5C746 1405 735.1 1433.6 725.1 1442.5C715.1 1451.5 703 1447.4 690.1 1451.3C677.2 1455.1 663 1461.1 647.6 1465.5C632.1 1470 612.5 1476.5 597.5 1478.1C582.5 1479.6 564.2 1475.5 557.5 1475Z" fill="#fff" stroke="#000" stroke-width="4" stroke-linecap="round" stroke-linejoin="round"/>
<path d="M570 1477.6C570.8 1489.6 575 1525.5 575 1550.1C575 1574.7 570 1608.9 570 1625.1C570 1641.4 571.3 1643.5 575 1647.7C578.8 1651.8 585.9 1652.2 592.5 1650.2C599.2 1648.1 610.2 1643.5 615 1635.2C619.8 1626.8 620.9 1613.5 621.3 1600.1C621.7 1586.8 620.7 1568.9 617.5 1555.1C614.4 1541.3 607.9 1527.6 602.5 1517.6C597.1 1507.6 587.9 1498.8 585 1495.1Z" fill="#fff" stroke="#000" stroke-width="3.5" stroke-linecap="round" stroke-linejoin="round"/>
<path d="M578.8 1497.6C580.6 1506.3 587.7 1533 590 1550.1C592.3 1567.2 592.9 1586.8 592.5 1600.1C592.1 1613.5 588.4 1625.1 587.5 1630.1" fill="none" stroke="#000" stroke-width="2.5" stroke-linecap="round" stroke-linejoin="round"/>
<path d="M577.5 1600.1C577.9 1604.3 575 1618.7 580 1625.1C585 1631.6 602.9 1636.6 607.5 1638.9" fill="none" stroke="#000" stroke-width="2.5" stroke-linecap="round" stroke-linejoin="round"/>
<path d="M700.1 1455C697.6 1459.2 693.4 1469.2 685.1 1480.1C676.7 1490.9 661.3 1507.9 650.1 1520.1C638.8 1532.3 623 1547.6 617.5 1553.1" fill="none" stroke="#000" stroke-width="7" stroke-linecap="round" stroke-linejoin="round"/>
<path d="M645.1 1472.5L655.1 1485.1" fill="none" stroke="#000" stroke-width="5" stroke-linecap="round" stroke-linejoin="round"/>
<path d="M610 1397.5L627.5 1437.5" fill="none" stroke="#000" stroke-width="6" stroke-linecap="round" stroke-linejoin="round"/>
<path d="M682.6 1397.5L682.6 1415" fill="none" stroke="#000" stroke-width="6" stroke-linecap="round" stroke-linejoin="round"/>
<path d="M567.5 1405C567.9 1407.9 565.8 1417.7 570 1422.5C574.2 1427.3 588.8 1431.9 592.5 1433.8" fill="none" stroke="#000" stroke-width="2" stroke-linecap="round" stroke-linejoin="round"/>
<path d="M557.5 1510.1C560.4 1510.9 566.3 1513.8 575 1515.1C583.8 1516.3 601.7 1518.4 610 1517.6C618.4 1516.7 622.5 1511.3 625 1510.1" fill="none" stroke="#000" stroke-width="4" stroke-linecap="round" stroke-linejoin="round"/>
<path d="M557.5 1633.9L571.3 1631.4" fill="none" stroke="#000" stroke-width="5" stroke-linecap="round" stroke-linejoin="round"/>
<path d="M897.7 1502.6L916.5 1504.1" fill="none" stroke="#000" stroke-width="3.4" stroke-linecap="butt" stroke-linejoin="round" stroke-dasharray="9.5 6"/>
<path d="M915.2 1505.1L918.2 1635.2" fill="none" stroke="#000" stroke-width="4" stroke-linecap="round" stroke-linejoin="round"/>
<path d="M918.2 1640.2L950.3 1626.4" fill="none" stroke="#000" stroke-width="5" stroke-linecap="round" stroke-linejoin="round"/>
<path d="M872.7 1583.1L917.7 1585.6" fill="none" stroke="#000" stroke-width="3.5" stroke-linecap="round" stroke-linejoin="round"/>
<path d="M895.2 1628.1L912.7 1626.6" fill="none" stroke="#000" stroke-width="3.5" stroke-linecap="round" stroke-linejoin="round"/>
<path d="M862.7 1500.1C866.4 1499.2 879.4 1497.6 885.2 1495.1C891 1492.6 895.6 1486.7 897.7 1485.1" fill="none" stroke="#000" stroke-width="4" stroke-linecap="round" stroke-linejoin="round"/>
<path d="M905.2 1425C904.8 1431.3 904.4 1452.1 902.7 1462.5C901.1 1473 900.6 1476.3 895.2 1487.6C889.8 1498.8 877.7 1515.5 870.2 1530.1C862.7 1544.7 858.1 1557.2 850.2 1575.1C842.3 1593 831 1618.9 822.7 1637.7C814.3 1656.4 806.4 1677.3 800.2 1687.7C793.9 1698.1 787.6 1698.1 785.1 1700.2" fill="none" stroke="#000" stroke-width="4" stroke-linecap="round" stroke-linejoin="round"/>
<path d="M863.9 1535.1L872.7 1536.3" fill="none" stroke="#000" stroke-width="3" stroke-linecap="round" stroke-linejoin="round"/>
<path d="M852.7 1580.1L870.2 1587.6L882.7 1597.6L865.2 1643.9L832.7 1630.1L831.4 1620.1L845.2 1615.1Z" fill="#fff" stroke="#000" stroke-width="4" stroke-linecap="round" stroke-linejoin="round"/>
<path d="M866.4 1592.6L876.5 1598.9L863.9 1628.9L856.4 1625.1Z" fill="#fff" stroke="#000" stroke-width="3" stroke-linecap="round" stroke-linejoin="round"/>
<path d="M882.7 1612.6L950.3 1673.9L950.3 1682.7L906.5 1711.5L863.9 1637.7Z" fill="#fff" stroke="#000" stroke-width="4" stroke-linecap="round" stroke-linejoin="round"/>
<path d="M885.2 1678.9L915.2 1657.7" fill="none" stroke="#000" stroke-width="3.4" stroke-linecap="butt" stroke-linejoin="round" stroke-dasharray="9.5 6"/>
<path d="M795.2 1698.9L881.5 1688.9" fill="none" stroke="#000" stroke-width="3.4" stroke-linecap="butt" stroke-linejoin="round" stroke-dasharray="9.5 6"/>
<path d="M755.1 1705.2L785.1 1700.2" fill="none" stroke="#000" stroke-width="3.4" stroke-linecap="butt" stroke-linejoin="round" stroke-dasharray="9.5 6"/>
<path d="M763.9 1603.9C764.9 1605.1 770.1 1609.1 770.1 1611.4C770.1 1613.7 765.9 1617.6 763.9 1617.6C761.9 1617.6 759.1 1612.4 758.1 1611.4Z" fill="#fff" stroke="#000" stroke-width="2.5" stroke-linecap="round" stroke-linejoin="round"/>
<path d="M755.1 1607.6C754.6 1612.6 752.2 1628.1 752.1 1637.7C752 1647.2 754.2 1660.6 754.6 1665.2" fill="none" stroke="#000" stroke-width="3.5" stroke-linecap="round" stroke-linejoin="round"/>
<path d="M773.9 1610.1C774.4 1614.7 776.8 1628.9 777.1 1637.7C777.4 1646.4 775.9 1658.5 775.6 1662.7" fill="none" stroke="#000" stroke-width="3.5" stroke-linecap="round" stroke-linejoin="round"/>
<path d="M763.9 1653.9C765.3 1654.5 770.8 1655.6 772.6 1657.7C774.4 1659.8 775.7 1664.1 774.6 1666.4C773.6 1668.7 769.4 1671 766.4 1671.4C763.3 1671.8 758.3 1670.8 756.4 1668.9C754.4 1667 754.9 1661.6 754.6 1660.2Z" fill="#fff" stroke="#000" stroke-width="3.5" stroke-linecap="round" stroke-linejoin="round"/>
<path d="M757.6 1667.7L772.6 1667.7L788.1 1771.5L760.1 1775.2Z" fill="#fff" stroke="#000" stroke-width="4" stroke-linecap="round" stroke-linejoin="round"/>

<!-- 28_packS.svg -->
<path d="M892.5 1484.1C902.1 1483.8 930 1484.3 950 1482.6C970 1480.8 991.7 1478 1012.6 1473.8C1033.4 1469.6 1058.4 1463.2 1075.1 1457.5C1091.8 1451.9 1103.5 1444.6 1112.6 1440C1121.8 1435.4 1125.1 1432.2 1130.1 1430C1135.2 1427.9 1138.1 1426.6 1142.7 1427C1147.2 1427.4 1152.2 1428.3 1157.7 1432.5C1163.1 1436.8 1168.1 1443.4 1175.2 1452.5C1182.3 1461.7 1193.5 1476.3 1200.2 1487.6C1206.9 1498.8 1211.7 1509.7 1215.2 1520.1C1218.7 1530.5 1221.4 1540.9 1221.5 1550.1C1221.5 1559.3 1219.2 1567.6 1215.7 1575.1C1212.2 1582.6 1206.9 1588.9 1200.2 1595.1C1193.4 1601.4 1187.7 1605.1 1175.2 1612.6C1162.7 1620.1 1141.8 1631.8 1125.1 1640.2C1108.5 1648.5 1093.9 1655.6 1075.1 1662.7C1056.4 1669.8 1033.4 1677.3 1012.6 1682.7C991.7 1688.1 969.6 1691.5 950 1695.2C930.4 1698.9 904.2 1703.1 895 1704.7" fill="none" stroke="#000" stroke-width="11.6" stroke-linecap="round" stroke-linejoin="round"/>
<path d="M915 1503.8C925 1503.2 954.6 1503.2 975 1500.1C995.5 1496.9 1018.8 1491.3 1037.6 1485.1C1056.4 1478.8 1073 1469 1087.6 1462.5C1102.2 1456.1 1114.7 1450 1125.1 1446.3C1135.6 1442.5 1146 1441.1 1150.2 1440" fill="none" stroke="#000" stroke-width="3.4" stroke-linecap="butt" stroke-linejoin="round" stroke-dasharray="9.5 6"/>
<path d="M1210.2 1560.1C1204.4 1565.1 1189.4 1580.1 1175.2 1590.1C1161 1600.1 1141.8 1611.4 1125.1 1620.1C1108.5 1628.9 1093.9 1635.6 1075.1 1642.7C1056.4 1649.7 1033.4 1656.8 1012.6 1662.7C991.7 1668.5 962.1 1674.9 950 1677.7C937.9 1680.4 941.7 1678.9 940 1679.2" fill="none" stroke="#000" stroke-width="3.4" stroke-linecap="butt" stroke-linejoin="round" stroke-dasharray="9.5 6"/>
<path d="M958.8 1562.6C961.1 1559.7 964.8 1553.8 972.5 1545.1C980.3 1536.3 992.1 1520.5 1005.1 1510.1C1018 1499.6 1034.3 1489.6 1050.1 1482.6C1065.9 1475.5 1085.5 1470.3 1100.1 1467.5C1114.7 1464.8 1127.2 1465 1137.7 1466.3C1148.1 1467.5 1156 1471.1 1162.7 1475C1169.3 1479 1174.3 1485.9 1177.7 1490.1C1181 1494.2 1181.8 1498.4 1182.7 1500.1" fill="none" stroke="#000" stroke-width="4.8" stroke-linecap="round" stroke-linejoin="round"/>
<path d="M982.6 1545.1C987.6 1540.1 1000.5 1523.8 1012.6 1515.1C1024.7 1506.3 1040.5 1498.8 1055.1 1492.6C1069.7 1486.3 1086.4 1480.5 1100.1 1477.6C1113.9 1474.6 1127.2 1473.8 1137.7 1475C1148.1 1476.3 1156.4 1481.1 1162.7 1485.1C1168.9 1489 1173.1 1496.5 1175.2 1498.8" fill="none" stroke="#000" stroke-width="4.6" stroke-linecap="round" stroke-linejoin="round"/>
<path d="M985.1 1550.1C991.7 1546.8 1012.2 1535.5 1025.1 1530.1C1038 1524.7 1048.4 1522.2 1062.6 1517.6C1076.8 1513 1095.5 1506.1 1110.1 1502.6C1124.7 1499 1138.1 1496.9 1150.2 1496.3C1162.3 1495.7 1177.3 1498.4 1182.7 1498.8L1198.9 1510.1L1188.9 1565.1C1182.5 1569.3 1167 1581.8 1150.2 1590.1C1133.3 1598.5 1102.6 1608.8 1087.6 1615.1C1072.6 1621.5 1064.7 1626 1060.1 1628.1L980.1 1632.1" fill="none" stroke="#000" stroke-width="4.7" stroke-linecap="round" stroke-linejoin="round"/>
<path d="M985.1 1567.6C989.6 1563.9 999.6 1551.3 1012.6 1545.1C1025.5 1538.8 1045.9 1534.5 1062.6 1530.1C1079.3 1525.7 1098 1522 1112.6 1518.8C1127.2 1515.7 1136.2 1513 1150.2 1511.3C1164.1 1509.7 1188.7 1509.2 1196.4 1508.8" fill="none" stroke="#000" stroke-width="3.4" stroke-linecap="butt" stroke-linejoin="round" stroke-dasharray="9.5 6"/>
<path d="M1128.9 1557.6C1132.4 1554.7 1143.3 1543.6 1150.2 1540.1C1157 1536.5 1165.2 1535.5 1170.2 1536.3C1175.2 1537.2 1178.1 1542 1180.2 1545.1C1182.3 1548.2 1182.3 1553.4 1182.7 1555.1" fill="none" stroke="#000" stroke-width="2.7" stroke-linecap="round" stroke-linejoin="round"/>
<path d="M915 1505.1C916.1 1512.6 920.8 1534.3 921.3 1550.1C921.7 1565.9 919.2 1583.5 917.5 1600.1C915.8 1616.8 912.3 1641.8 911.3 1650.2" fill="none" stroke="#000" stroke-width="6" stroke-linecap="round" stroke-linejoin="round"/>
<path d="M897.5 1586.4L917.5 1586.4" fill="none" stroke="#000" stroke-width="3.5" stroke-linecap="round" stroke-linejoin="round"/>
<path d="M897.5 1627.6L912.5 1626.4" fill="none" stroke="#000" stroke-width="3.5" stroke-linecap="round" stroke-linejoin="round"/>
<path d="M941.3 1555.1L956.3 1612.6" fill="none" stroke="#000" stroke-width="4" stroke-linecap="round" stroke-linejoin="round"/>
<path d="M961.3 1562.6C960.5 1565.5 956.5 1569.7 956.3 1580.1C956.1 1590.5 959.4 1617.6 960 1625.1" fill="none" stroke="#000" stroke-width="6" stroke-linecap="round" stroke-linejoin="round"/>
<path d="M917.5 1640.2L955 1627.6" fill="none" stroke="#000" stroke-width="5" stroke-linecap="round" stroke-linejoin="round"/>
<path d="M975 1545.1C976.9 1545.9 984.2 1547.6 986.3 1550.1C988.4 1552.6 988.6 1557 987.6 1560.1C986.5 1563.2 983.2 1567.8 980.1 1568.9C976.9 1569.9 971.5 1568.2 968.8 1566.4C966.1 1564.5 964.1 1560.5 963.8 1557.6C963.5 1554.7 966.5 1550.3 967 1548.8Z" fill="#fff" stroke="#000" stroke-width="3.5" stroke-linecap="round" stroke-linejoin="round"/>
<path d="M971.3 1547.6L980.1 1547.6L980.1 1578.9L971.3 1578.9Z" fill="#fff" stroke="#000" stroke-width="1.6" stroke-linecap="round" stroke-linejoin="round"/>
<path d="M963.8 1575.1C963.1 1579.3 960.4 1591.8 959.5 1600.1C958.7 1608.5 958.9 1621 958.8 1625.1" fill="none" stroke="#000" stroke-width="3.5" stroke-linecap="round" stroke-linejoin="round"/>
<path d="M981.3 1575.1C981.3 1579.3 981.5 1591.8 981.3 1600.1C981.1 1608.5 980.3 1621 980.1 1625.1" fill="none" stroke="#000" stroke-width="3.5" stroke-linecap="round" stroke-linejoin="round"/>
<path d="M967.5 1617.1C968.9 1617.7 974 1618.7 975.5 1620.6C977.1 1622.6 978.1 1626.7 977 1628.9C976 1631.1 972.3 1633.5 969.5 1633.9C966.8 1634.3 962.3 1633.2 960.5 1631.4C958.8 1629.6 959.3 1624.5 959 1623.1Z" fill="#fff" stroke="#000" stroke-width="3.5" stroke-linecap="round" stroke-linejoin="round"/>
<path d="M961.3 1630.1L975 1630.1L980.1 1739L951.3 1739Z" fill="#fff" stroke="#000" stroke-width="4" stroke-linecap="round" stroke-linejoin="round"/>

<!-- 29_lash.svg -->
<path d="M798.7 1391.1C803.2 1388.6 818.5 1378.5 825.9 1376.5C833.2 1374.4 836.6 1376.2 842.7 1378.8C848.7 1381.3 858.8 1389.6 862.1 1391.7L869.8 1397.1L876.3 1391.7C875.6 1389.6 873.9 1383.5 872.4 1378.8C870.9 1374 868.1 1365.9 867.2 1363.3L856.9 1351.9L838.8 1358.1L798.7 1365.2Z" fill="#fff" stroke="#000" stroke-width="4" stroke-linecap="round" stroke-linejoin="round"/>
<path d="M852.4 1348L873.9 1344.3L890.8 1395.9L877.3 1400.8L860.8 1352.9Z" fill="#fff" stroke="#000" stroke-width="4" stroke-linecap="round" stroke-linejoin="round"/>
<path d="M855.9 1352.9L867.5 1350.1L878.3 1385.5L874.3 1394.9L863.6 1392" fill="none" stroke="#000" stroke-width="3" stroke-linecap="round" stroke-linejoin="round"/>
<path d="M834.6 1395.6C835.3 1400.1 837.3 1413.4 838.8 1422.7C840.3 1432 842.9 1446.7 843.7 1451.4" fill="none" stroke="#000" stroke-width="11" stroke-linecap="butt" stroke-linejoin="round"/>
<path d="M838.8 1452.5C841.4 1452.8 848.7 1454 854.3 1454.4C859.9 1454.8 867.2 1455.3 872.4 1454.8C877.6 1454.3 880.4 1453.5 885.3 1451.2C890.3 1448.9 899.3 1442.6 902.1 1440.8C901.8 1445.6 900.8 1462.2 900.2 1469.3C899.5 1476.4 898.6 1481.1 898.3 1483.5C897 1484.6 893.9 1487.9 890.5 1490C887.1 1492 882.1 1494.4 877.6 1495.8C873 1497.2 865.7 1497.9 863.3 1498.4C861.8 1495.7 858.4 1489.9 854.3 1482.2C850.2 1474.6 841.4 1457.4 838.8 1452.5Z" fill="#fff" stroke="#000" stroke-width="4" stroke-linecap="round" stroke-linejoin="round"/>
<path d="M842.7 1415.2C844.8 1414.1 851.9 1409.3 855.6 1408.5C859.3 1407.7 861.4 1411.1 864.6 1410.5C867.9 1409.8 870.7 1406.6 875 1404.6C879.3 1402.7 887.9 1399.8 890.5 1398.8" fill="none" stroke="#000" stroke-width="3.5" stroke-linecap="round" stroke-linejoin="round"/>
<path d="M880.2 1407.2C880.6 1409 882.3 1413.6 882.7 1417.6C883.2 1421.6 882.7 1428.9 882.7 1431.1" fill="none" stroke="#000" stroke-width="3.5" stroke-linecap="round" stroke-linejoin="round"/>
<path d="M907.3 1410.5C904.9 1412.1 897.2 1416.4 893.1 1420.2C889 1423.9 886.5 1427.3 882.7 1433.1C879 1438.9 872.5 1451.4 870.5 1455.1" fill="none" stroke="#000" stroke-width="4" stroke-linecap="round" stroke-linejoin="round"/>
<path d="M896.3 1422.7C896.1 1424.5 894.7 1429.9 895 1433.1C895.3 1436.3 897.7 1440.6 898.3 1442.1" fill="none" stroke="#000" stroke-width="3" stroke-linecap="round" stroke-linejoin="round"/>
<path d="M907.6 1412.4C907 1413.7 904.9 1415.2 904.1 1420.2C903.3 1425.1 903 1438.5 902.8 1442.1" fill="none" stroke="#000" stroke-width="5.5" stroke-linecap="round" stroke-linejoin="round"/>
<path d="M908 1412.7L929.3 1408.5C930.1 1411.1 934.2 1418.9 934.5 1424C934.7 1429.2 931.2 1437 930.6 1439.5C928.6 1440.3 923 1443 918.9 1444.1C914.9 1445.2 908.4 1445.9 906.3 1446.3L903.4 1430.5Z" fill="#fff" stroke="#000" stroke-width="4" stroke-linecap="round" stroke-linejoin="round"/>
<path d="M907.3 1438.5L924.1 1430.8C922.5 1431.8 917.2 1435.6 914.4 1437.2C911.7 1438.9 908.7 1440 907.6 1440.6Z" fill="#fff" stroke="#000" stroke-width="3" stroke-linecap="round" stroke-linejoin="round"/>
<path d="M890.5 1398.4L921.5 1400.8" fill="none" stroke="#000" stroke-width="5" stroke-linecap="butt" stroke-linejoin="round" stroke-dasharray="8 3"/>

<!-- 30_flap.svg -->
<path d="M192.3 431C192.9 430.2 193.7 427.1 196 426C198.3 424.9 204.2 424.6 205.9 424.3L362.3 419.4C365.1 420 374.2 421.1 379.1 423.3C384.1 425.5 389.9 430.8 392 432.3L420.5 462L437.3 489.2L473.5 555.1L491.6 600L503.4 618.2L529.3 663.4L540.9 684.1C541.5 686 544 692 544.2 695.7C544.4 699.4 544.2 701.5 542.2 706.1C540.2 710.7 533.6 720.6 531.9 723.5L451.7 724.2L400 723.2L343.4 722.9L338.3 715.1L320.2 689.3L291.7 644L259.4 593.6L246 568L214.9 509.9L194.2 442.7Z M203.9 455.6C204 454.3 203.8 450.4 204.6 447.8C205.4 445.2 206.6 441.7 209 440C211.4 438.3 217.2 437.9 218.8 437.5L368.8 430.4C372 431.6 381.7 433.5 388.2 437.5C394.7 441.5 404.4 451.5 407.6 454.3L430.8 484L446.4 516.4L460.6 555.1L469.8 579.4L490.5 618.2L509.9 653.1L526.7 681.5C527.5 683.2 530.6 688.9 531.2 691.9C531.9 694.9 532 696.1 530.6 699.6C529.2 703.1 524.1 710.4 522.8 712.6L477.6 715.1L438.8 718L400 719.5L369.3 716.4C367.1 716 360.7 715.5 356.4 713.8C352.1 712.1 345.6 707.4 343.4 706.1L327.9 686.7L298.2 640.2L270.5 600L252.4 568.1L238.2 542.2L222.7 509.9L209.7 477.6Z" fill="#fff" fill-rule="evenodd" stroke="#000" stroke-width="2.2" stroke-linejoin="round"/>
<path d="M203.9 455.6C204 454.3 203.8 450.4 204.6 447.8C205.4 445.2 206.6 441.7 209 440C211.4 438.3 217.2 437.9 218.8 437.5L368.8 430.4C372 431.6 381.7 433.5 388.2 437.5C394.7 441.5 404.4 451.5 407.6 454.3L430.8 484L446.4 516.4L460.6 555.1L469.8 579.4L490.5 618.2L509.9 653.1L526.7 681.5C527.5 683.2 530.6 688.9 531.2 691.9C531.9 694.9 532 696.1 530.6 699.6C529.2 703.1 524.1 710.4 522.8 712.6L477.6 715.1L438.8 718L400 719.5L369.3 716.4C367.1 716 360.7 715.5 356.4 713.8C352.1 712.1 345.6 707.4 343.4 706.1L327.9 686.7L298.2 640.2L270.5 600L252.4 568.1L238.2 542.2L222.7 509.9L209.7 477.6Z" fill="url(#mesh)" stroke="none"/>
<path d="M198.5 444C199 442.4 199.2 436.7 201.5 434.5C203.8 432.3 210.2 431.4 212 430.8L365 424.8C368 425.7 377.2 427 383 430C388.8 433 396.8 440.8 399.5 443L425.5 473L441.5 502.5L467 555L480.5 590L497 618L519.5 658L534 683C534.6 684.8 537.4 690.7 537.8 694C538.2 697.3 538.2 699 536.5 703C534.8 707 529 715.5 527.5 718L451 719.8L400 721.5L356 719.8C354.3 719.2 348.6 717.5 346 716C343.4 714.5 341.4 711.4 340.5 710.5L324 688L295 642L265 596.5L249 568L218.8 509.9L201.8 459Z" fill="none" stroke="#000" stroke-width="0.8" stroke-linecap="butt" stroke-linejoin="round" stroke-dasharray="1.5 1.8"/>

<!-- 31_flapstraps.svg -->
<path d="M177.6 435.1L197.6 430.1L215.6 510.1L195.6 500.1Z" fill="#fff" stroke="#000" stroke-width="2.4" stroke-linecap="round" stroke-linejoin="round"/>
<path d="M147.6 388L156.4 383.8L172.6 405L163.9 409.6Z" fill="#fff" stroke="#000" stroke-width="2.4" stroke-linecap="round" stroke-linejoin="round"/>
<path d="M160.1 410.6L180.1 402.5C181.2 404.2 184.2 408.7 186.4 412.6C188.5 416.4 192 423.4 193.1 425.6L175.1 433.1C173.4 431.3 167.6 426.3 165.1 422.6C162.6 418.8 160.9 412.6 160.1 410.6Z" fill="#fff" stroke="#000" stroke-width="2.4" stroke-linecap="round" stroke-linejoin="round"/>
<path d="M166.4 412.6L178.1 408.1L186.4 423.8L175.1 428.1Z" fill="#fff" stroke="#000" stroke-width="1.5" stroke-linecap="round" stroke-linejoin="round"/>
<path d="M125.1 347.5C125.9 346.9 128.2 343.6 130.1 343.8C132 344 134.3 344.4 136.3 348.8C138.4 353.1 138.6 363.1 142.6 370C146.6 376.9 158.9 385.4 160.1 390C161.4 394.7 154.1 398.9 150.1 398C146.1 397.2 140.1 391.4 136.3 385C132.6 378.7 129 364.2 127.6 360Z" fill="#fff" stroke="#000" stroke-width="2.4" stroke-linecap="round" stroke-linejoin="round"/>
<path d="M130.1 352C130.7 351.8 132.1 346.7 133.8 350.5C135.6 354.3 140.2 370.5 140.6 375C141 379.5 137 377.1 136.3 377.5Z" fill="#fff" stroke="#000" stroke-width="1.5" stroke-linecap="round" stroke-linejoin="round"/>
<path d="M395.1 423L412.7 425L463.9 493.1L455.2 500.6Z" fill="#fff" stroke="#000" stroke-width="2.4" stroke-linecap="round" stroke-linejoin="round"/>
<path d="M387.1 397.5L401.4 395L416.4 422L393.9 425Z" fill="#fff" stroke="#000" stroke-width="2.4" stroke-linecap="round" stroke-linejoin="round"/>
<path d="M392.6 402.5L402.6 400.5L411.4 417.5L397.6 420Z" fill="#fff" stroke="#000" stroke-width="1.5" stroke-linecap="round" stroke-linejoin="round"/>
<path d="M398.3 336.1C399.4 337 404.2 337.5 405 341.2C405.9 344.8 404.2 352.4 403.4 358C402.5 363.6 401.7 370.6 400 374.8C398.3 379 396.4 382.1 393.3 383.2C390.2 384.3 384 384 381.5 381.5C379 379 377.3 373.7 378.2 368.1C379 362.5 385.2 351.3 386.6 347.9Z" fill="#fff" stroke="#000" stroke-width="2.4" stroke-linecap="round" stroke-linejoin="round"/>
<path d="M396.6 344.5C397.3 344.6 400.4 342.4 400.7 345.2C401 348 400.1 356.7 398.3 361.3C396.5 366 391.9 371.7 389.9 373.1C388 374.5 387.1 370.3 386.6 369.7Z" fill="#fff" stroke="#000" stroke-width="1.5" stroke-linecap="round" stroke-linejoin="round"/>
<path d="M384.9 381.5L398.3 383.2L400 396.6L389.9 398.3Z" fill="#fff" stroke="#000" stroke-width="2.4" stroke-linecap="round" stroke-linejoin="round"/>

<!-- 45_arrows.svg -->
<path d="M1062.6 648.1C1060.1 648.9 1058 649 1047.6 652.7C1037.2 656.3 1016.3 663.5 1000.1 670.2C983.8 676.8 967.9 683.5 950 692.7C932.1 701.8 911.9 713.4 892.7 725C873.6 736.7 851 750.9 835.2 762.5C819.3 774.2 808.9 780.9 797.7 795.1C786.4 809.2 772.6 838.8 767.6 847.6L746.4 832.6L760.1 922.6L831.4 878.9L808.9 860.1C813.3 854.3 822.5 839.3 835.2 825.1C847.9 810.9 866.1 793.4 885.2 775C904.4 756.7 930.9 729.5 950 715.2C969.2 700.8 982.6 696.4 1000.1 688.9C1017.6 681.4 1044.1 673.8 1055.1 670.2C1066.1 666.5 1064.5 667.7 1066.4 667.2Z" fill="#fff" stroke="#000" stroke-width="3" stroke-linecap="round" stroke-linejoin="round"/>
<path d="M826.3 920.6L915.1 928.8L896.3 952.6C902.8 956.8 918.2 970.5 935.1 977.6C952 984.7 976.8 991.2 997.7 995.1C1018.5 999.1 1043.9 1001 1060.2 1001.4C1076.5 1001.8 1087.9 998.4 1095.2 997.6C1102.5 996.8 1102.5 996.8 1104 996.6L1104 1017.7L1095.2 1018.9C1087.3 1020.4 1066 1026.2 1047.7 1027.7C1029.3 1029.1 1006 1030.2 985.1 1027.7C964.3 1025.2 943.5 1019.7 922.6 1012.7C901.8 1005.6 870.5 989.7 860.1 985.1L843.8 1000.1Z" fill="#fff" stroke="#000" stroke-width="3" stroke-linecap="round" stroke-linejoin="round"/>
<path d="M554.6 355.1C554.1 356.6 554.4 356.4 551.3 363.9C548.3 371.4 539.9 386.2 536.3 400.1C532.8 414.1 531.1 439.8 530.1 447.7L506.3 443.9L553.8 524L603.9 450.2L573.9 443.9C574.7 437.5 575.7 417.2 578.9 405.1C582 393.1 589.8 378.3 592.6 371.4C595.4 364.5 595.1 365.1 595.6 363.9Z" fill="#fff" stroke="#000" stroke-width="3" stroke-linecap="round" stroke-linejoin="round"/>
<path d="M810.2 1236.4L831.4 1255.1C836.2 1249.7 847.1 1233.4 860.2 1222.6C873.3 1211.8 895.3 1198.4 910.2 1190.1C925.2 1181.7 930.9 1177.5 950 1172.5C969.1 1167.5 1001.2 1161.7 1025 1160C1048.8 1158.3 1079.6 1162 1092.5 1162.5C1105.4 1163 1100.8 1162.9 1102.5 1163L1102.5 1188.5L1092.5 1189C1081.2 1190.2 1047.1 1190.4 1025 1196C1002.9 1201.6 979.1 1212.6 960 1222.5C940.9 1232.4 923.3 1244.5 910.2 1255.1C897.1 1265.8 886.3 1281.2 881.5 1286.4L906.5 1315.2L801.4 1350.2Z" fill="#fff" stroke="#000" stroke-width="3" stroke-linecap="round" stroke-linejoin="round"/>
<path d="M178.1 1297.7C178.6 1298.9 177.7 1298.9 181.4 1305.2C185 1311.4 191.2 1326 200.1 1335.2C209.1 1344.4 229.3 1356 235.1 1360.2L223.9 1374L288.9 1370.2L261.4 1316.4L246.4 1331.4C242 1327.9 226.8 1315 220.1 1310.2C213.5 1305.4 209.2 1305.2 206.4 1302.7C203.5 1300.2 203.7 1296.4 203.1 1295.2Z" fill="#fff" stroke="#000" stroke-width="3" stroke-linecap="round" stroke-linejoin="round"/>
<path d="M176.3 971.4C177 973.1 176.1 973.3 180.1 981.4C184.1 989.6 189.3 1006.7 200.1 1020.2C210.9 1033.8 237.6 1055.6 245.1 1062.7L228.9 1080.2L321.4 1084L288.9 1003.9L266.4 1025.2C261.2 1020.2 243.9 1005 235.1 995.2C226.4 985.4 218 972.7 213.9 966.4C209.7 960.2 210.7 959.1 210.1 957.7Z" fill="#fff" stroke="#000" stroke-width="3" stroke-linecap="round" stroke-linejoin="round"/>
<path d="M1102.1 1487.6L1057.6 1511.3L1072.6 1516.3C1071.2 1526.1 1065.9 1552.8 1063.9 1575.1C1061.8 1597.4 1059.9 1625.1 1060.1 1650.2C1060.3 1675.2 1063 1704.7 1065.1 1725.2C1067.2 1745.7 1071.2 1764.3 1072.6 1773.2C1074 1782.2 1073.4 1778 1073.6 1779L1087.6 1779L1086.4 1773.2C1085.5 1761.1 1081.8 1724.9 1081.4 1700.2C1081 1675.5 1082.4 1648.1 1083.9 1625.1C1085.3 1602.2 1087.8 1577.8 1090.1 1562.6C1092.4 1547.4 1096.4 1538.6 1097.6 1533.8L1112.6 1539.6Z" fill="#fff" stroke="#000" stroke-width="3" stroke-linecap="round" stroke-linejoin="round"/>

<!-- 50_shovel_probe.svg -->
<g transform="translate(1027,150) scale(0.33614)" stroke-width="8.7">
<!-- shovel shaft -->
<path class="o" d="M285 290 L318 290 L318 883 L285 883 Z"/>
<!-- shovel handle tube -->
<path class="l" stroke-width="59" d="M298 262 L298 218 Q300 180 335 168 L460 135"/>
<path fill="none" stroke="#fff" stroke-linecap="round" stroke-linejoin="round" stroke-width="43" d="M298 262 L298 218 Q300 180 335 168 L460 135"/>
<!-- probe poles -->
<path class="o" d="M597 470 Q597 455 611 455 Q625 455 625 470 L601 1250 L586 1292 L571 1250 Z"/>
<path class="o" d="M635 470 Q635 455 649 455 Q663 455 663 470 L671 1250 L657 1292 L642 1250 Z"/>
<path class="o" d="M707 478 L775 478 Q813 480 813 517 Q813 555 775 556 L738 556 L768 1265 Q768 1282 752 1282 Q737 1282 737 1265 L707 556 Z"/>
<path class="o" d="M678 470 Q678 455 693 455 Q708 455 708 470 L703 1250 L688 1292 L674 1250 Z"/>
<path class="l" stroke-width="3" d="M710 608 L740 610"/>
</g>
<g transform="translate(1027,450) scale(0.33614)" stroke-width="8.7">
<!-- shovel blade -->
<path class="o" d="M262 118 Q262 98 292 98 Q322 98 322 118 L324 190 Q330 250 350 268 Q440 290 468 340 Q488 380 490 420 L512 610 Q512 640 470 658 L290 678 L100 658 Q66 645 68 610 L90 410 Q95 350 130 315 Q170 280 225 268 Q250 250 258 190 Z"/>
<g class="l" stroke-width="3.5">
<path d="M128 322 Q148 450 108 660"/><path d="M458 325 Q435 450 478 655"/>
<path d="M258 230 Q245 430 290 675 Q335 430 325 240"/>
<rect x="197" y="425" width="23" height="50" rx="11"/><rect x="362" y="425" width="23" height="50" rx="11"/>
<path d="M163 665 L163 600 Q163 586 175 586 Q187 586 187 600 L187 665"/>
<path d="M205 668 L207 575 Q208 556 223 556 Q238 556 238 575 L240 670"/>
<path d="M343 668 L345 575 Q346 556 359 556 Q372 556 373 575 L378 666"/>
<path d="M397 662 L395 600 Q395 586 406 586 Q416 586 416 600 L420 660"/>
</g>
</g>

<!-- 55_board_poles_axe.svg -->
<g transform="translate(1027,750) scale(0.33614)" stroke-width="8.7">
<!-- splitboard left half -->
<path class="o" d="M350 213 Q280 215 230 270 Q190 320 190 410 Q192 560 212 720 Q222 900 215 1042 Q205 1342 195 1592 Q196 1700 230 1760 Q270 1825 350 1832 Z"/>
<!-- right half -->
<path class="o" d="M385 105 Q450 108 500 170 Q545 230 540 330 Q535 600 518 900 Q520 1142 540 1400 Q550 1520 535 1592 Q500 1715 385 1724 Z"/>
<g class="o" stroke-width="3.5">
<rect x="303" y="555" width="13" height="240" rx="6"/><rect x="297" y="790" width="28" height="45"/>
<rect x="303" y="1305" width="14" height="243" rx="6"/><rect x="297" y="1267" width="28" height="45"/>
<rect x="425" y="448" width="14" height="240" rx="6"/><rect x="419" y="682" width="28" height="46"/>
<rect x="425" y="1200" width="15" height="240" rx="6"/><rect x="419" y="1160" width="28" height="46"/>
</g>
<!-- ski poles lower -->
<path class="o" stroke-width="7" d="M690 335 L722 335 L710 1757 L708 1820 Q698 1835 688 1820 L690 1757 Z"/>
<path class="o" stroke-width="7" d="M803 325 L838 325 L822 1750 L822 1815 Q812 1828 802 1815 L803 1750 Z"/>
<path class="o" stroke-width="6" d="M688 1760 Q655 1765 652 1778 Q660 1795 672 1780 Q685 1775 690 1790 L708 1790 Q712 1775 725 1780 Q738 1795 745 1778 Q742 1765 710 1760 Z"/>
<path class="o" stroke-width="6" d="M803 1752 Q770 1757 768 1770 Q775 1787 787 1772 Q798 1767 803 1782 L822 1782 Q826 1767 838 1772 Q850 1787 858 1770 Q855 1757 822 1752 Z"/>
</g>

<!-- 56_axe_poles.svg -->
<path d="M1274.1 802.8C1275.9 804.3 1281.4 808.5 1285.3 812C1289.3 815.5 1292.5 819.2 1297.6 823.7C1302.7 828.1 1313 836.2 1316.1 838.6L1316.1 856.1C1312.6 853.7 1301 846.5 1295.6 842.1C1290.2 837.8 1287.3 834.4 1283.7 829.8C1280.1 825.3 1275.7 817.2 1274.1 814.7Z" fill="#fff" stroke="#000" stroke-width="2.4" stroke-linecap="round" stroke-linejoin="round"/>
<path d="M1275.1 808.5C1277 810.5 1282.9 816.4 1286.4 820.2C1289.8 824 1294.4 829.6 1296 831.5" fill="none" stroke="#000" stroke-width="1.6" stroke-linecap="round" stroke-linejoin="round"/>
<path d="M1312 839.7C1313.3 840.5 1318.5 842.9 1320.2 844.8C1321.8 846.7 1322.3 848.9 1321.8 850.9C1321.3 853 1319 855.8 1317.1 857.1C1315.2 858.4 1311.5 858.3 1310.3 858.5Z" fill="#fff" stroke="#000" stroke-width="2.4" stroke-linecap="round" stroke-linejoin="round"/>
<path d="M1312.4 800.3C1315 802.1 1322.3 806.1 1328.4 811C1334.4 815.8 1343.6 824.3 1348.8 829.4C1354.1 834.5 1358.2 839.7 1360.1 841.7C1360.4 842.9 1362.4 846.8 1361.6 848.9C1360.7 851 1356.1 853.5 1355 854.4C1352.6 854.2 1346.1 854.1 1340.7 853C1335.2 851.9 1326.7 849.3 1322.2 847.9C1317.7 846.4 1315 844.8 1313.6 844.2Z" fill="#fff" stroke="#000" stroke-width="2.4" stroke-linecap="round" stroke-linejoin="round"/>
<path d="M1314 810.4C1316.1 811.8 1321.2 815 1326.3 819.2C1331.4 823.4 1340 831 1344.8 835.6C1349.5 840.2 1352.9 845 1354.6 846.8L1351.9 850.3C1349.4 849.7 1341.8 848.6 1336.6 846.8C1331.3 845.1 1323.9 841.5 1320.2 839.7C1316.4 837.9 1315 836.6 1314 836Z" fill="#fff" stroke="#000" stroke-width="2.4" stroke-linecap="round" stroke-linejoin="round"/>
<path d="M1252.5 800.7C1253.2 800.2 1254.4 798.3 1256.6 797.7C1258.9 797 1263 796.5 1265.9 796.6C1268.8 796.8 1272.5 797.5 1274.1 798.7C1275.7 799.9 1275.8 801.2 1275.5 803.8C1275.1 806.4 1272.2 809.4 1272 814.1C1271.8 818.7 1273.4 825.8 1274.1 831.5C1274.7 837.1 1275.9 843.9 1276.1 847.9C1276.3 851.8 1276.7 853 1275.5 855C1274.3 857.1 1271.1 859.1 1268.9 860.2C1266.8 861.2 1265 861.9 1262.8 861.2C1260.6 860.5 1257 858.1 1255.6 856.1C1254.2 854 1254.2 853 1254.6 848.9C1254.9 844.8 1257.5 837.3 1257.7 831.5C1257.8 825.7 1256 817 1255.6 814.1Z" fill="#fff" stroke="#000" stroke-width="2.9" stroke-linecap="round" stroke-linejoin="round"/>
<path d="M1291.5 798.7C1292.2 798.2 1293.4 796.4 1295.6 795.6C1297.8 794.9 1301.9 794.1 1304.8 794.2C1307.7 794.3 1311.5 795 1313 796.2C1314.5 797.5 1313.9 799.3 1313.6 801.8C1313.3 804.2 1311 806.4 1310.9 811C1310.8 815.6 1312.3 823.6 1313 829.4C1313.7 835.2 1314.9 842.1 1315 845.8C1315.2 849.6 1315.2 850.1 1314 852C1312.8 853.8 1309.9 856 1307.9 857.1C1305.8 858.2 1303.9 859.2 1301.7 858.5C1299.5 857.8 1295.9 854.9 1294.5 853C1293.2 851 1293.2 850.8 1293.5 846.8C1293.9 842.9 1296.4 835.4 1296.6 829.4C1296.8 823.4 1294.9 814.1 1294.5 811Z" fill="#fff" stroke="#000" stroke-width="2.9" stroke-linecap="round" stroke-linejoin="round"/>
<path d="M1256.2 802.8C1257.7 802.4 1261.9 800.7 1264.8 800.7C1267.8 800.7 1272.5 802.4 1274.1 802.8" fill="none" stroke="#000" stroke-width="1.3" stroke-linecap="round" stroke-linejoin="round"/>
<path d="M1256.6 853C1258 853.3 1261.8 855.2 1264.8 855C1267.8 854.9 1273 852.5 1274.7 852" fill="none" stroke="#000" stroke-width="1.3" stroke-linecap="round" stroke-linejoin="round"/>
<path d="M1258.7 817.1C1259.5 819.5 1263.3 826.2 1263.8 831.5C1264.3 836.8 1262.1 846 1261.8 848.9" fill="none" stroke="#000" stroke-width="1.3" stroke-linecap="round" stroke-linejoin="round"/>
<path d="M1271 815.1C1269.6 816.1 1264.8 818.5 1262.8 821.2C1260.7 824 1259.4 829.8 1258.7 831.5" fill="none" stroke="#000" stroke-width="1.3" stroke-linecap="round" stroke-linejoin="round"/>
<path d="M1295.2 800.7C1296.6 800.4 1300.9 798.7 1303.8 798.7C1306.7 798.7 1311.1 800.4 1312.6 800.7" fill="none" stroke="#000" stroke-width="1.3" stroke-linecap="round" stroke-linejoin="round"/>
<path d="M1295.2 850.3C1296.6 850.7 1300.7 852.5 1303.8 852.4C1306.8 852.2 1312 850 1313.6 849.5" fill="none" stroke="#000" stroke-width="1.3" stroke-linecap="round" stroke-linejoin="round"/>
<path d="M1297.6 815.1C1298.5 817.5 1302.2 824.2 1302.7 829.4C1303.3 834.6 1301 843.4 1300.7 846.2" fill="none" stroke="#000" stroke-width="1.3" stroke-linecap="round" stroke-linejoin="round"/>
<path d="M1310.3 812C1308.9 813.2 1303.8 816.3 1301.7 819.2C1299.6 822.1 1298.3 827.7 1297.6 829.4" fill="none" stroke="#000" stroke-width="1.3" stroke-linecap="round" stroke-linejoin="round"/>
<path d="M1364.8 894.6L1402.1 895.4C1407.6 896 1425 897.3 1434.9 899.1C1444.8 900.9 1454.7 903.9 1461.6 906.3C1468.4 908.7 1470.1 909.5 1475.9 913.4C1481.7 917.4 1489.6 924.7 1496.4 929.8C1503.2 935 1510 939.7 1516.9 944.2C1523.7 948.6 1532.8 953.1 1537.4 956.5C1542 959.9 1543.1 961.5 1544.5 964.7C1546 967.8 1545.7 973.5 1546 975.3L1540.4 974.5L1540.4 974.5L1536.8 965.1L1531 968.8L1527.3 959.4L1521.5 963.1L1517.9 953.7L1512.1 957.4L1508.4 948L1502.6 951.7L1499 942.4L1493.2 946L1489.5 936.7L1483.8 940.4L1480.1 931L1474.3 934.7L1470.6 925.3L1464.9 929L1461.2 919.6L1455.4 923.3L1455.4 923.3L1454.4 920.6L1432.9 919.6C1431.5 920.6 1426.7 922.3 1424.7 925.7C1422.6 929.1 1421.3 937.7 1420.6 940.1L1422.6 944.2L1411.3 993.4L1413.6 1187L1418.6 1265C1418.8 1268.8 1419.9 1281.1 1419.6 1287.8C1419.3 1294.5 1418 1299.7 1416.9 1305.3C1415.8 1310.9 1414.8 1318.3 1412.9 1321.4C1410.9 1324.6 1407.8 1324.1 1405.2 1324.1C1402.5 1324.1 1398.7 1324.6 1396.7 1321.4C1394.8 1318.3 1394.3 1310.9 1393.4 1305.3C1392.4 1299.7 1391.3 1294.5 1391 1287.8C1390.8 1281.1 1391.6 1268.8 1391.7 1265L1385.7 993.4L1396 938C1397 936 1400.9 929.8 1402.1 925.7C1403.3 921.6 1403 915.5 1403.2 913.4C1401.3 912.4 1395.5 908 1391.9 907.3C1388.3 906.6 1385.1 907.8 1381.6 909.3C1378.2 910.9 1373.1 915.3 1371.4 916.5L1365.2 917.5L1364.2 911.4Z" fill="#fff" stroke="#000" stroke-width="2.9" stroke-linecap="round" stroke-linejoin="round"/>
<path d="M1461.6 906.9L1455.4 923.3" fill="none" stroke="#000" stroke-width="2" stroke-linecap="round" stroke-linejoin="round"/>
<path d="M1397 937L1419.5 943.2" fill="none" stroke="#000" stroke-width="2.4" stroke-linecap="round" stroke-linejoin="round"/>
<path d="M1406.2 906.3C1407.6 905.9 1410.5 904 1414.4 904.2C1418.3 904.4 1427.2 906.8 1429.8 907.3C1429.3 908.3 1429.4 910.2 1426.7 913.4C1424 916.7 1415.6 924.5 1413.4 926.8C1412.5 925.6 1409.5 923 1408.3 919.6C1407.1 916.2 1406.6 908.5 1406.2 906.3Z" fill="#fff" stroke="#000" stroke-width="2.4" stroke-linecap="round" stroke-linejoin="round"/>
<path d="M1369.8 896.6L1369.8 907.7C1370.4 907.5 1370.4 907.4 1373.4 906.3C1376.4 905.2 1383.1 901.7 1387.8 901.1C1392.5 900.6 1399.4 902.5 1401.7 902.8L1402.1 896" fill="none" stroke="#000" stroke-width="1.4" stroke-linecap="round" stroke-linejoin="round"/>
<circle cx="1441.1" cy="908.7" r="3.5" fill="none" stroke="#000" stroke-width="1.6"/>
<circle cx="1441.1" cy="908.7" r="1.6" fill="none" stroke="#000" stroke-width="1.2"/>
<circle cx="1451.7" cy="910.4" r="2.7" fill="none" stroke="#000" stroke-width="1.4"/>
<path d="M1392.7 1189.7L1414.2 1189.7" fill="none" stroke="#000" stroke-width="1.2" stroke-linecap="round" stroke-linejoin="round"/>
<path d="M1392.7 1291.2L1418.3 1291.2" fill="none" stroke="#000" stroke-width="1.2" stroke-linecap="round" stroke-linejoin="round"/>
<path d="M1398.4 1295.2L1411.9 1295.2C1411.6 1297.9 1411.3 1307.4 1410.2 1311.3C1409.1 1315.3 1406 1317.5 1405.2 1318.7C1404.3 1317.5 1401.2 1315.3 1400.1 1311.3C1399 1307.4 1398.7 1297.9 1398.4 1295.2Z" fill="#fff" stroke="#000" stroke-width="1.2" stroke-linecap="round" stroke-linejoin="round"/>

<!-- 61_goggles.svg -->
<path d="M668.9 265.1L750.2 297.6L754.7 303.1L749 363.9L745.2 368.9L725.2 370.6L647.7 355.1Z" fill="#fff" stroke="#000" stroke-width="3" stroke-linecap="round" stroke-linejoin="round"/>
<path d="M663.9 335.1L745.2 360.6L749 363.9" fill="none" stroke="#000" stroke-width="1.3" stroke-linecap="round" stroke-linejoin="round"/>
<path d="M453.8 215C457.3 213.6 465.3 208.3 475 206.3C484.8 204.3 500.1 203.4 512.6 203C525.1 202.6 537.6 202.4 550.1 203.8C562.6 205.1 575.1 207.5 587.6 211.3C600.1 215 614.7 221.1 625.1 226.3C635.6 231.5 643.5 237.5 650.2 242.5C656.8 247.5 661.6 252.8 665.2 256.3C668.7 259.8 670.4 262.6 671.4 263.8C670.4 267.3 667.9 275.7 665.2 285.1C662.5 294.4 658.3 308.8 655.2 320.1C652 331.3 647.9 347.2 646.4 352.6C645.4 354.9 642.4 363.7 640.2 366.4C637.9 369.1 633.9 368.5 632.7 368.9C627.2 369 610.6 370 600.1 369.6C589.7 369.2 578 368 570.1 366.4C562.2 364.8 558.4 364.1 552.6 360.1C546.8 356.2 541.3 349.2 535.1 342.6C528.8 336 518.4 324.3 515.1 320.6C514.2 321.5 512.6 322.3 510.1 326.3C507.6 330.4 503.6 339.9 500.1 345.1C496.5 350.3 490.7 355.5 488.8 357.6L453.8 357.6C453.2 356.8 453.2 357.2 450 352.6C446.9 348 438.6 338.9 435 330.1C431.5 321.3 429.4 310.5 428.8 300.1C428.1 289.7 429.6 277.1 431.3 267.6C432.9 258 435 251.3 438.8 242.5C442.5 233.8 451.3 219.6 453.8 215Z" fill="#fff" stroke="#000" stroke-width="3" stroke-linecap="round" stroke-linejoin="round"/>
<path d="M432.5 320.1C432 315.5 429.3 301.7 429.5 292.6C429.7 283.4 431.4 274.2 433.8 265.1C436.1 255.9 439.8 245.1 443.8 237.5C447.7 229.9 452.3 223.7 457.5 219.5C462.7 215.4 468.8 213.4 475 212.5C481.3 211.6 490.9 214.4 495.1 214C499.2 213.7 493.4 211 500.1 210.5C506.7 210.1 528 210.5 535.1 211.3C542.2 212 535.9 213.4 542.6 215C549.3 216.7 563.4 217.7 575.1 221.3C586.8 224.8 602.2 231.1 612.6 236.3C623.1 241.5 631.4 246.5 637.7 252.5C643.9 258.6 647.8 265.9 650.2 272.6C652.5 279.2 652.3 285.5 651.7 292.6C651 299.7 649.2 308.4 646.4 315.1C643.7 321.8 640.4 328 635.2 332.6C629.9 337.2 623.1 340 615.1 342.6C607.2 345.2 596.4 347.5 587.6 348.1C578.9 348.7 569.7 348.1 562.6 346.4C555.5 344.6 550.5 341.6 545.1 337.6C539.7 333.6 535.9 328.8 530.1 322.6C524.2 316.3 515.1 304.7 510.1 300.1C505.1 295.5 503 295.5 500.1 295.1C497.1 294.7 495.5 294.7 492.6 297.6C489.6 300.5 486.7 306.7 482.6 312.6C478.4 318.4 473 328.4 467.5 332.6C462.1 336.8 455 338 450 337.6C445 337.2 439.6 331.3 437.5 330.1Z" fill="#fff" stroke="#000" stroke-width="3" stroke-linecap="round" stroke-linejoin="round"/>
<path d="M637.7 247.5C640.6 251.7 651.8 263.8 655.2 272.6C658.5 281.3 657.9 291.3 657.7 300.1C657.5 308.8 654.5 320.9 653.9 325.1" fill="none" stroke="#000" stroke-width="1.3" stroke-linecap="round" stroke-linejoin="round"/>
<path d="M642.7 242.5C645.4 246.3 655.8 257.6 658.9 265.1C662 272.6 661 283.8 661.4 287.6" fill="none" stroke="#000" stroke-width="1.3" stroke-linecap="round" stroke-linejoin="round"/>
<path d="M453.8 353.1C457.3 352.6 469.4 353.9 475 350.1C480.7 346.3 484 336.4 487.6 330.1C491.1 323.8 493 315.9 496.3 312.6C499.6 309.3 505.7 310.5 507.6 310.1" fill="none" stroke="#000" stroke-width="1.3" stroke-linecap="round" stroke-linejoin="round"/>
<path d="M612.6 360.6C614.7 358.5 619.5 351.4 625.1 348.1C630.8 344.8 642.9 341.9 646.4 340.6" fill="none" stroke="#000" stroke-width="1.3" stroke-linecap="round" stroke-linejoin="round"/>
<path d="M555.1 360.6C560.5 361.5 578 365.6 587.6 365.6C597.2 365.6 608.5 361.5 612.6 360.6" fill="none" stroke="#000" stroke-width="1.3" stroke-linecap="round" stroke-linejoin="round"/>

<!-- 62_bottle.svg -->
<path d="M167.6 778.8C167.2 780.3 169.3 780.3 165.1 787.6C160.9 794.9 146.7 813.8 142.6 822.6C138.4 831.3 140.5 837.2 140.1 840.1L133.1 945.2C133.6 947.7 133.9 955.6 136.3 960.2C138.7 964.8 141.9 969.5 147.6 972.7C153.2 975.8 162.2 978.5 170.1 978.9C178 979.3 188 977.5 195.1 975.2C202.2 972.9 208.6 969.8 212.6 965.2C216.6 960.6 218 950.6 219.1 947.7L227.6 825.1C226.5 822.2 223.1 813.8 220.6 807.6C218.1 801.3 214.1 792.5 212.6 787.6C211.1 782.6 211.8 779.6 211.6 778.1Z" fill="#fff" stroke="#000" stroke-width="3" stroke-linecap="round" stroke-linejoin="round"/>
<path d="M166.3 772.5C167 767.5 168.4 749 170.1 742.5C171.8 736.1 173 735.5 176.3 733.8C179.7 732 185.1 732.1 190.1 732C195.1 731.9 202.6 731.7 206.4 733C210.1 734.4 211.5 733.4 212.6 740C213.7 746.6 213 767.1 213.1 772.5C212.6 773.5 214.4 776.6 210.1 778.1C205.9 779.5 194.7 781.1 187.6 781.1C180.5 781.1 171.1 779.5 167.6 778.1C164 776.6 166.5 773.5 166.3 772.5Z" fill="#fff" stroke="#000" stroke-width="3" stroke-linecap="round" stroke-linejoin="round"/>
<path d="M166.3 773C169.9 773.6 179.9 776.4 187.6 776.3C195.3 776.2 208.4 773.2 212.6 772.5" fill="none" stroke="#000" stroke-width="1.6" stroke-linecap="round" stroke-linejoin="round"/>
<circle cx="190.6" cy="751.3" r="14.5" fill="#fff" stroke="#000" stroke-width="2.6"/>
<path d="M178.8 753.8C179.9 755.2 182.2 760.9 185.1 762.5C188 764.2 193.2 764.8 196.4 763.8C199.5 762.7 202.6 757.5 203.9 756.3" fill="none" stroke="#000" stroke-width="1.4" stroke-linecap="round" stroke-linejoin="round"/>
<path d="M147.6 827.6C151.3 829 161.3 834.9 170.1 836.3C178.8 837.8 191.6 837.8 200.1 836.3C208.7 834.9 217.8 829 221.4 827.6" fill="none" stroke="#000" stroke-width="1.3" stroke-linecap="round" stroke-linejoin="round"/>
<path d="M170.1 802.6L150.1 827.6" fill="none" stroke="#000" stroke-width="1.1" stroke-linecap="round" stroke-linejoin="round"/>
<path d="M200.1 795.1L215.1 825.1" fill="none" stroke="#000" stroke-width="1.1" stroke-linecap="round" stroke-linejoin="round"/>
<path d="M202.6 790.1L218.1 823.8" fill="none" stroke="#000" stroke-width="1.1" stroke-linecap="round" stroke-linejoin="round"/>
<path d="M147.6 840.1L142.1 947.7" fill="none" stroke="#000" stroke-width="1.1" stroke-linecap="round" stroke-linejoin="round"/>
<path d="M170.1 791.3C173 791.9 181.8 795.1 187.6 795.1C193.4 795.1 202.2 791.9 205.1 791.3" fill="none" stroke="#000" stroke-width="1.1" stroke-linecap="round" stroke-linejoin="round"/>
<path d="M260.1 793.1L267.6 787.6L290.2 789.1L291.4 853.1C289.5 853.3 283.1 854.6 280.2 854.1C277.2 853.6 275.2 852.3 273.9 850.1C272.7 847.8 272.9 842.2 272.7 840.6L261.6 837.1Z" fill="#fff" stroke="#000" stroke-width="3.5" stroke-linecap="round" stroke-linejoin="round"/>
<path d="M265.1 793.1L287.7 794.6" fill="none" stroke="#000" stroke-width="2" stroke-linecap="round" stroke-linejoin="round"/>
<path d="M273.9 846.3L287.7 845.1" fill="none" stroke="#000" stroke-width="2.5" stroke-linecap="round" stroke-linejoin="round"/>

<!-- 63_skins.svg -->
<path d="M93.8 1098.8L92.5 1202.6C93.8 1204.3 96.1 1210 100.1 1212.6C104 1215.2 113.6 1217.2 116.3 1218.1L145.1 1190.1L145.1 1115Z" fill="#fff" stroke="#000" stroke-width="3" stroke-linecap="round" stroke-linejoin="round"/>
<path d="M190.1 1100C191.8 1103.4 195.5 1103.4 200.1 1120.1C204.7 1136.7 216.8 1172.9 217.6 1200.1C218.5 1227.3 207.2 1269.3 205.1 1283.2C201 1283.6 188.4 1285.5 180.1 1285.7C171.8 1285.8 163.8 1285.9 155.1 1283.9C146.3 1281.9 132.2 1275.6 127.6 1273.9C126.3 1271.6 122.1 1266.6 120.1 1260.1C118 1253.7 115.1 1245.1 115.1 1235.1C115.1 1225.1 117.1 1210.1 120.1 1200.1C123 1190.1 125.9 1185.1 132.6 1175.1C139.2 1165.1 150.5 1151.4 160.1 1140.1C169.7 1128.7 185.1 1112.5 190.1 1107Z" fill="#fff" stroke="#000" stroke-width="3" stroke-linecap="round" stroke-linejoin="round"/>
<path d="M93.8 1098C95.3 1096.5 94.8 1091.4 102.6 1089C110.3 1086.7 128 1084.3 140.1 1084C152.2 1083.8 166.7 1085.1 175.1 1087.5C183.5 1090 189.8 1095.4 190.6 1098.8C191.4 1102.2 188.5 1105.5 180.1 1108C171.7 1110.6 152.6 1113.9 140.1 1114C127.6 1114.2 110.9 1109.9 105.1 1109Z" fill="#fff" stroke="#000" stroke-width="3" stroke-linecap="round" stroke-linejoin="round"/>
<path d="M100.1 1098C101.3 1097 100.9 1093.8 107.6 1092C114.2 1090.3 129.2 1087.7 140.1 1087.5C150.9 1087.3 165.3 1088.9 172.6 1090.8C179.9 1092.7 183.4 1096.6 183.9 1099C184.3 1101.5 182.4 1103.6 175.1 1105.5C167.8 1107.5 150.9 1110.4 140.1 1110.5C129.2 1110.7 116.6 1108.4 110.1 1106.5C103.5 1104.7 102.1 1100.7 100.6 1099.5" fill="none" stroke="#000" stroke-width="1.2" stroke-linecap="round" stroke-linejoin="round"/>
<path d="M106.3 1102.5C111.9 1103.5 129 1108 140.1 1108C151.1 1108.1 165.9 1104.5 172.6 1103C179.3 1101.5 178.9 1099.7 180.1 1099" fill="none" stroke="#000" stroke-width="1.2" stroke-linecap="round" stroke-linejoin="round"/>
<path d="M105.1 1098C107.6 1097.4 114.6 1093.5 120.1 1094C125.5 1094.6 133.5 1099.3 137.6 1101.5C141.6 1103.8 143.2 1106.5 144.3 1107.5L133.8 1107.5C131.5 1106.2 124.2 1100.4 120.1 1099.5C115.9 1098.7 110.7 1102 108.8 1102.5Z" fill="#fff" stroke="#000" stroke-width="2" stroke-linecap="round" stroke-linejoin="round"/>
<path d="M95 1096.5L106.3 1099.5L93 1123.1L90 1132.6L76.3 1127.6C77.8 1124.6 82.4 1115.2 85.5 1110C88.7 1104.9 93.5 1098.8 95 1096.5Z" fill="#fff" stroke="#000" stroke-width="2.2" stroke-linecap="round" stroke-linejoin="round"/>
<path d="M99.6 1099.5L85.5 1126.3" fill="none" stroke="#000" stroke-width="3" stroke-linecap="butt" stroke-linejoin="round" stroke-dasharray="3 7"/>
<path d="M60 1136.3L70 1130.6L91.3 1133.1L100.1 1147.6L95 1155.6L86.3 1158.8L65 1155.6L55 1147.6Z" fill="#fff" stroke="#000" stroke-width="2.4" stroke-linecap="round" stroke-linejoin="round"/>
<path d="M67.5 1136.3L81.3 1137.1L80 1150.1L66.3 1148.8Z" fill="#fff" stroke="#000" stroke-width="2" stroke-linecap="round" stroke-linejoin="round"/>
<path d="M85.5 1138.8L88.8 1150.1L99.6 1148.1" fill="none" stroke="#000" stroke-width="1.5" stroke-linecap="round" stroke-linejoin="round"/>
<path d="M68.8 1157.6L66.3 1200.1C65.7 1201.8 62.5 1205.7 62.5 1210.1C62.5 1214.5 65 1223.5 66.3 1226.4C67.5 1229.3 68.7 1227.6 70 1227.6C71.3 1227.6 72.4 1229.3 74 1226.4C75.7 1223.5 79.6 1214.5 80 1210.1C80.5 1205.7 77.1 1201.8 76.5 1200.1L79 1157.6Z" fill="#fff" stroke="#000" stroke-width="2.4" stroke-linecap="round" stroke-linejoin="round"/>
<path d="M70 1206.4C70.7 1206.6 73.4 1205.3 73.8 1207.6C74.2 1209.9 73.4 1217.8 72.5 1220.1C71.7 1222.4 69.7 1222.2 68.8 1221.4C67.9 1220.5 67.3 1216.2 67 1215.1Z" fill="#fff" stroke="#000" stroke-width="1.5" stroke-linecap="round" stroke-linejoin="round"/>
<path d="M118.8 1287.7L127.6 1283.9L137.6 1283.9L142.6 1290.2L190.1 1288.9L195.1 1283.9L205.1 1290.2L210.1 1298.9L195.1 1308.2L185.1 1300.2L135.1 1297.7L130.1 1301.4L118.8 1295.2Z" fill="#fff" stroke="#000" stroke-width="2.6" stroke-linecap="round" stroke-linejoin="round"/>
<path d="M130.1 1286.4L133.8 1296.4" fill="none" stroke="#000" stroke-width="1.3" stroke-linecap="round" stroke-linejoin="round"/>
<path d="M192.6 1290.2L198.1 1302.7" fill="none" stroke="#000" stroke-width="1.3" stroke-linecap="round" stroke-linejoin="round"/>
<path d="M145.1 1292.7L185.1 1293.2" fill="none" stroke="#000" stroke-width="1.3" stroke-linecap="round" stroke-linejoin="round"/>

<!-- 64_snacks.svg -->
<path d="M823.8 1897.6L912.6 1816.3L921.3 1801.3L921.8 1805.8L926.1 1804.3L926.5 1808.8L930.8 1807.4L931.2 1811.9L935.5 1810.5L936 1814.9L940.2 1813.5L940.7 1818L945 1816.6L945.4 1821L949.7 1819.6L950.1 1824.1L954.4 1822.7L954.9 1827.2L959.1 1825.7L959.6 1830.2L963.9 1828.8L950.1 1838.8L857.5 1925.1L845 1938.9L845.1 1934.4L840.7 1935.4L840.8 1930.9L836.4 1931.9L836.5 1927.5L832.1 1928.5L832.2 1924L827.8 1925L827.8 1920.5L823.5 1921.5L823.5 1917L819.2 1918L819.2 1913.6L814.9 1914.6L814.9 1910.1L810.6 1911.1L810.6 1906.6L806.3 1907.6Z" fill="#fff" stroke="#000" stroke-width="3" stroke-linecap="round" stroke-linejoin="round"/>
<path d="M823.8 1897.6L857.5 1923.9" fill="none" stroke="#000" stroke-width="1.2" stroke-linecap="round" stroke-linejoin="round"/>
<path d="M913.8 1818.1L948.9 1837.6" fill="none" stroke="#000" stroke-width="1.2" stroke-linecap="round" stroke-linejoin="round"/>
<path d="M861.3 1918.9C862.8 1915.7 863.2 1909.1 870.1 1900.1C876.9 1891.1 891.7 1875.1 902.6 1865.1C913.4 1855.1 927.6 1844.4 935.1 1840.1C942.6 1835.7 945.5 1839 947.6 1838.8" fill="none" stroke="#000" stroke-width="1.2" stroke-linecap="round" stroke-linejoin="round"/>
<path d="M875.1 1902.6L948.9 1840.6" fill="none" stroke="#000" stroke-width="2" stroke-linecap="round" stroke-linejoin="round"/>
<path d="M957.6 1788.8C958.4 1787.9 960.5 1784.8 962.6 1783.8C964.7 1782.7 968.4 1781.9 970.1 1782.5C971.8 1783.2 971.6 1785.7 972.6 1787.5C973.7 1789.4 973.5 1791.7 976.4 1793.8C979.3 1795.9 985.3 1797.3 990.1 1800C994.9 1802.7 1001 1805.5 1005.1 1810C1009.3 1814.6 1012.9 1820.9 1015.1 1827.6C1017.4 1834.2 1018.9 1842.1 1018.9 1850.1C1018.9 1858 1017.9 1866.3 1015.1 1875.1C1012.4 1883.8 1008.5 1894.3 1002.6 1902.6C996.8 1910.9 988.9 1918.4 980.1 1925.1C971.4 1931.8 959.3 1938.7 950.1 1942.6C940.9 1946.6 931.3 1948.3 925.1 1948.9C918.8 1949.5 915.5 1948.3 912.6 1946.4C909.7 1944.5 907.6 1940.3 907.6 1937.6C907.6 1934.9 908.8 1933.2 912.6 1930.1C916.3 1927 923.4 1923.9 930.1 1918.9C936.8 1913.9 945.9 1907 952.6 1900.1C959.3 1893.2 965.7 1885.5 970.1 1877.6C974.5 1869.7 977.4 1860.9 978.9 1852.6C980.3 1844.2 979.9 1835.5 978.9 1827.6C977.8 1819.6 975.3 1810.7 972.6 1805C969.9 1799.4 964.3 1795.7 962.6 1793.8Z" fill="#fff" stroke="#000" stroke-width="3.2" stroke-linecap="round" stroke-linejoin="round"/>
<path d="M965.1 1787.5C967.6 1791.3 976.4 1802.1 980.1 1810C983.9 1818 986.4 1826.7 987.6 1835.1C988.9 1843.4 989.3 1851.3 987.6 1860.1C986 1868.8 982.2 1879.3 977.6 1887.6C973 1895.9 967.2 1903.6 960.1 1910.1C953 1916.6 942.6 1922.4 935.1 1926.4C927.6 1930.3 918.4 1932.6 915.1 1933.9" fill="none" stroke="#000" stroke-width="1.2" stroke-linecap="round" stroke-linejoin="round"/>
<path d="M912.6 1942.6C917.2 1942.2 930.5 1942.6 940.1 1940.1C949.7 1937.6 960.9 1933 970.1 1927.6C979.3 1922.2 988.9 1913.9 995.1 1907.6C1001.4 1901.4 1005.6 1893 1007.6 1890.1" fill="none" stroke="#000" stroke-width="1.2" stroke-linecap="round" stroke-linejoin="round"/>
<path d="M961.4 1787.5C962 1787.7 963.9 1789.2 965.1 1788.8C966.4 1788.4 968.2 1785.7 968.9 1785" fill="none" stroke="#000" stroke-width="1.2" stroke-linecap="round" stroke-linejoin="round"/>
<path d="M1058.1 1784.4Q1059.7 1774.5 1069.7 1774.1L1106.5 1772.5Q1116.5 1772 1115.3 1782L1100.8 1910.2Q1099.7 1920.1 1089.8 1918.6L1048 1912.1Q1038.2 1910.6 1039.7 1900.7Z" fill="#fff" stroke="#000" stroke-width="3.6" stroke-linejoin="round"/>
<path d="M1060.3 1784.9Q1061.4 1777.5 1068.9 1777.2L1103.2 1775.8Q1110.7 1775.5 1109.9 1783L1095.5 1908.9Q1094.7 1916.4 1087.3 1915.2L1048.8 1909.3Q1041.4 1908.1 1042.5 1900.7Z" fill="none" stroke="#000" stroke-width="1.2"/>
<path d="M1060.2 1797.5L1104 1798.8L1088.9 1893.8L1045.2 1888.8Z" fill="#fff" stroke="#000" stroke-width="2.6" stroke-linecap="round" stroke-linejoin="round"/>
<ellipse cx="1064.4" cy="1903.1" rx="4.6" ry="6.2" fill="#fff" stroke="#000" stroke-width="1.4" transform="rotate(8 1064.4 1903.1)"/>

</svg>
</body></html>
